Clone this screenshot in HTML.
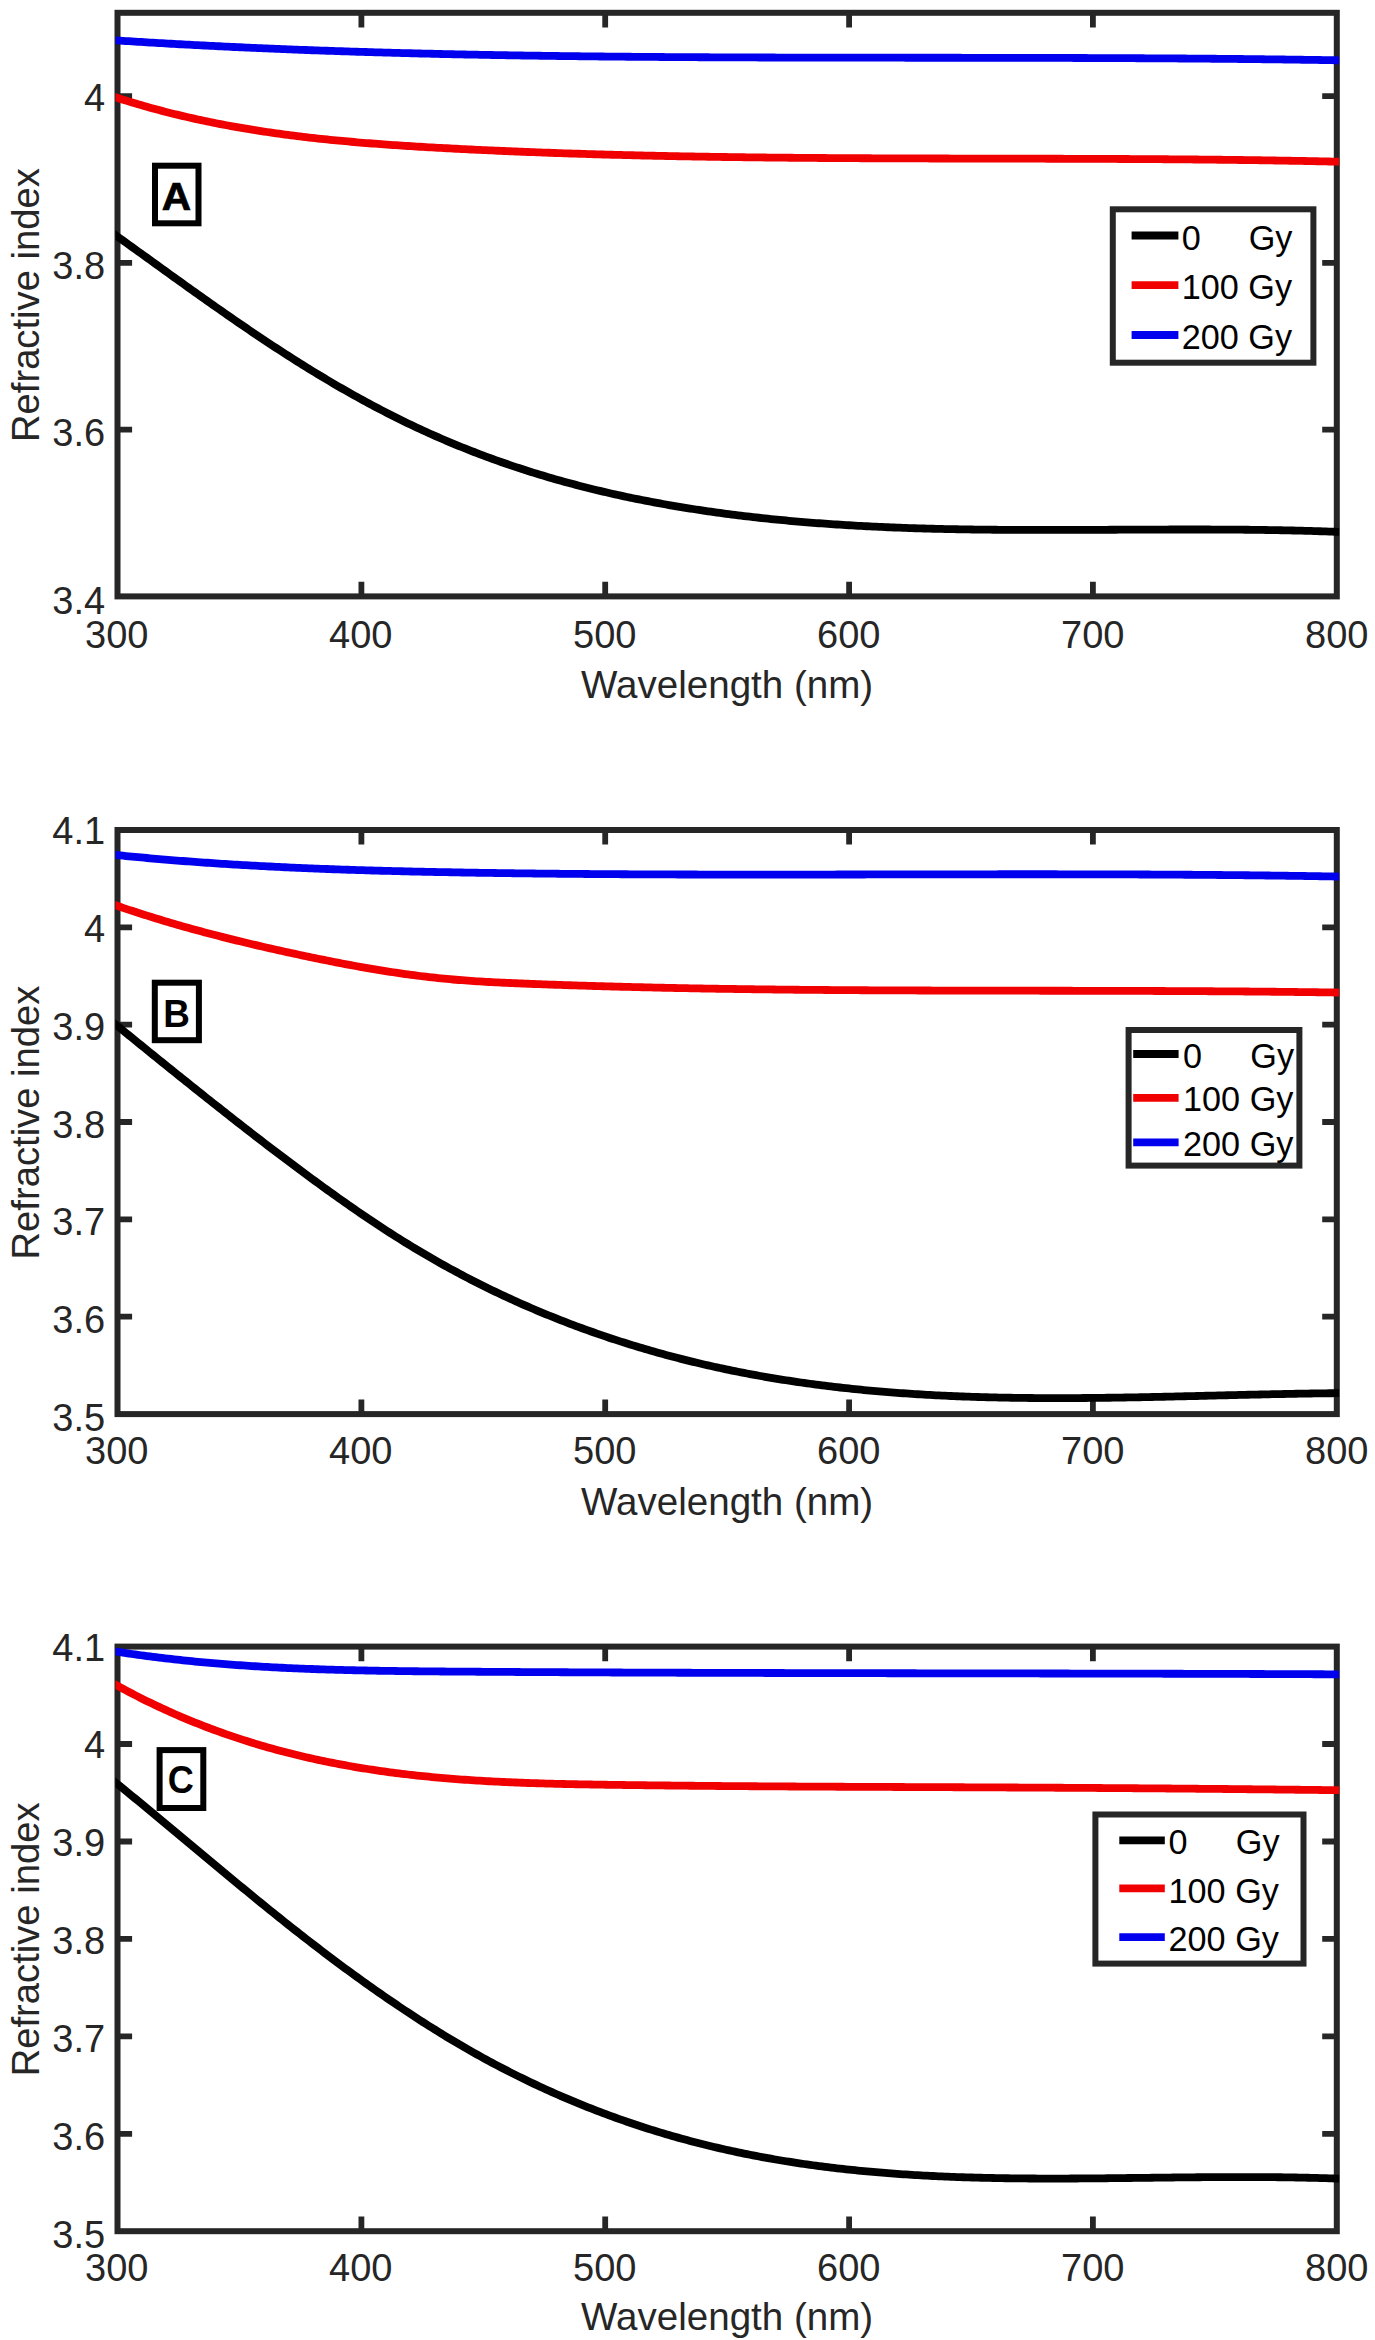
<!DOCTYPE html>
<html lang="en">
<head>
<meta charset="utf-8">
<title>Refractive index vs wavelength</title>
<style>html,body{margin:0;padding:0;background:#fff;}svg{display:block;}</style>
</head>
<body>
<svg width="1375" height="2340" viewBox="0 0 1375 2340" font-family="'Liberation Sans', sans-serif" fill="#262626">
<rect x="0" y="0" width="1375" height="2340" fill="#ffffff"/>
<g id="axes-A">
<rect x="117.5" y="12.8" width="1219.3" height="583.6" fill="none" stroke="#262626" stroke-width="6.0"/>
<path d="M361.4,596.4v-14.6 M361.4,12.8v14.6 M605.2,596.4v-14.6 M605.2,12.8v14.6 M849.1,596.4v-14.6 M849.1,12.8v14.6 M1092.9,596.4v-14.6 M1092.9,12.8v14.6 M117.5,429.7h14.6 M1336.8,429.7h-14.6 M117.5,262.9h14.6 M1336.8,262.9h-14.6 M117.5,96.2h14.6 M1336.8,96.2h-14.6" stroke="#262626" stroke-width="5.8" fill="none"/>
<text transform="translate(116.80,648.20) scale(1.0,1.04)" font-size="38.0" text-anchor="middle">300</text>
<text transform="translate(360.80,648.20) scale(1.0,1.04)" font-size="38.0" text-anchor="middle">400</text>
<text transform="translate(604.80,648.20) scale(1.0,1.04)" font-size="38.0" text-anchor="middle">500</text>
<text transform="translate(848.80,648.20) scale(1.0,1.04)" font-size="38.0" text-anchor="middle">600</text>
<text transform="translate(1092.80,648.20) scale(1.0,1.04)" font-size="38.0" text-anchor="middle">700</text>
<text transform="translate(1336.80,648.20) scale(1.0,1.04)" font-size="38.0" text-anchor="middle">800</text>
<text transform="translate(105.10,613.56) scale(1.0,1.04)" font-size="38.0" text-anchor="end">3.4</text>
<text transform="translate(105.10,446.10) scale(1.0,1.04)" font-size="38.0" text-anchor="end">3.6</text>
<text transform="translate(105.10,278.64) scale(1.0,1.04)" font-size="38.0" text-anchor="end">3.8</text>
<text transform="translate(105.10,111.18) scale(1.0,1.04)" font-size="38.0" text-anchor="end">4</text>
<text transform="translate(727.15,697.70)" font-size="38.55" text-anchor="middle">Wavelength (nm)</text>
<text transform="translate(39.10,305.10) rotate(-90)" font-size="38.2" text-anchor="middle">Refractive index</text>
<clipPath id="clip-A"><rect x="115.5" y="12.8" width="1223.6" height="583.6"/></clipPath>
<g clip-path="url(#clip-A)">
<path d="M108.0,229.74 L111.0,231.88 L114.0,234.03 L117.0,236.19 L120.0,238.34 L123.0,240.49 L126.0,242.65 L129.0,244.81 L132.0,246.97 L135.0,249.13 L138.0,251.29 L141.0,253.46 L144.0,255.62 L147.0,257.78 L150.0,259.94 L153.0,262.11 L156.0,264.27 L159.0,266.43 L162.0,268.59 L165.0,270.75 L168.0,272.91 L171.0,275.06 L174.0,277.22 L177.0,279.37 L180.0,281.52 L183.0,283.67 L186.0,285.81 L189.0,287.96 L192.0,290.09 L195.0,292.23 L198.0,294.36 L201.0,296.49 L204.0,298.62 L207.0,300.74 L210.0,302.85 L213.0,304.97 L216.0,307.07 L219.0,309.17 L222.0,311.27 L225.0,313.36 L228.0,315.45 L231.0,317.53 L234.0,319.60 L237.0,321.67 L240.0,323.73 L243.0,325.78 L246.0,327.83 L249.0,329.87 L252.0,331.91 L255.0,333.93 L258.0,335.95 L261.0,337.96 L264.0,339.96 L267.0,341.95 L270.0,343.94 L273.0,345.91 L276.0,347.88 L279.0,349.84 L282.0,351.79 L285.0,353.72 L288.0,355.65 L291.0,357.57 L294.0,359.48 L297.0,361.38 L300.0,363.26 L303.0,365.14 L306.0,367.00 L309.0,368.86 L312.0,370.70 L315.0,372.53 L318.0,374.35 L321.0,376.16 L324.0,377.96 L327.0,379.74 L330.0,381.52 L333.0,383.28 L336.0,385.03 L339.0,386.77 L342.0,388.50 L345.0,390.21 L348.0,391.92 L351.0,393.61 L354.0,395.29 L357.0,396.96 L360.0,398.61 L363.0,400.26 L366.0,401.89 L369.0,403.51 L372.0,405.11 L375.0,406.71 L378.0,408.29 L381.0,409.85 L384.0,411.41 L387.0,412.95 L390.0,414.48 L393.0,416.00 L396.0,417.51 L399.0,419.00 L402.0,420.47 L405.0,421.94 L408.0,423.39 L411.0,424.83 L414.0,426.26 L417.0,427.67 L420.0,429.07 L423.0,430.45 L426.0,431.82 L429.0,433.18 L432.0,434.53 L435.0,435.86 L438.0,437.18 L441.0,438.48 L444.0,439.77 L447.0,441.05 L450.0,442.32 L453.0,443.57 L456.0,444.82 L459.0,446.04 L462.0,447.26 L465.0,448.46 L468.0,449.65 L471.0,450.83 L474.0,452.00 L477.0,453.15 L480.0,454.30 L483.0,455.43 L486.0,456.54 L489.0,457.65 L492.0,458.74 L495.0,459.83 L498.0,460.90 L501.0,461.96 L504.0,463.01 L507.0,464.04 L510.0,465.07 L513.0,466.08 L516.0,467.08 L519.0,468.07 L522.0,469.05 L525.0,470.02 L528.0,470.98 L531.0,471.93 L534.0,472.87 L537.0,473.79 L540.0,474.71 L543.0,475.61 L546.0,476.51 L549.0,477.39 L552.0,478.26 L555.0,479.13 L558.0,479.98 L561.0,480.82 L564.0,481.66 L567.0,482.48 L570.0,483.29 L573.0,484.10 L576.0,484.89 L579.0,485.67 L582.0,486.45 L585.0,487.21 L588.0,487.97 L591.0,488.71 L594.0,489.45 L597.0,490.18 L600.0,490.90 L603.0,491.60 L606.0,492.30 L609.0,493.00 L612.0,493.68 L615.0,494.35 L618.0,495.02 L621.0,495.67 L624.0,496.32 L627.0,496.96 L630.0,497.59 L633.0,498.21 L636.0,498.83 L639.0,499.43 L642.0,500.03 L645.0,500.62 L648.0,501.20 L651.0,501.78 L654.0,502.34 L657.0,502.90 L660.0,503.45 L663.0,503.99 L666.0,504.53 L669.0,505.06 L672.0,505.58 L675.0,506.09 L678.0,506.60 L681.0,507.10 L684.0,507.59 L687.0,508.07 L690.0,508.55 L693.0,509.02 L696.0,509.49 L699.0,509.94 L702.0,510.39 L705.0,510.84 L708.0,511.28 L711.0,511.71 L714.0,512.13 L717.0,512.55 L720.0,512.96 L723.0,513.37 L726.0,513.76 L729.0,514.16 L732.0,514.54 L735.0,514.92 L738.0,515.30 L741.0,515.66 L744.0,516.03 L747.0,516.38 L750.0,516.73 L753.0,517.08 L756.0,517.41 L759.0,517.75 L762.0,518.07 L765.0,518.39 L768.0,518.71 L771.0,519.02 L774.0,519.32 L777.0,519.62 L780.0,519.91 L783.0,520.20 L786.0,520.48 L789.0,520.76 L792.0,521.03 L795.0,521.30 L798.0,521.56 L801.0,521.82 L804.0,522.07 L807.0,522.31 L810.0,522.55 L813.0,522.79 L816.0,523.02 L819.0,523.25 L822.0,523.47 L825.0,523.69 L828.0,523.90 L831.0,524.11 L834.0,524.31 L837.0,524.51 L840.0,524.70 L843.0,524.89 L846.0,525.08 L849.0,525.26 L852.0,525.43 L855.0,525.61 L858.0,525.77 L861.0,525.94 L864.0,526.10 L867.0,526.25 L870.0,526.40 L873.0,526.55 L876.0,526.69 L879.0,526.83 L882.0,526.97 L885.0,527.10 L888.0,527.23 L891.0,527.36 L894.0,527.48 L897.0,527.59 L900.0,527.71 L903.0,527.82 L906.0,527.93 L909.0,528.03 L912.0,528.13 L915.0,528.23 L918.0,528.32 L921.0,528.41 L924.0,528.50 L927.0,528.58 L930.0,528.66 L933.0,528.74 L936.0,528.82 L939.0,528.89 L942.0,528.96 L945.0,529.03 L948.0,529.09 L951.0,529.15 L954.0,529.21 L957.0,529.26 L960.0,529.32 L963.0,529.37 L966.0,529.42 L969.0,529.46 L972.0,529.51 L975.0,529.55 L978.0,529.59 L981.0,529.62 L984.0,529.66 L987.0,529.69 L990.0,529.72 L993.0,529.75 L996.0,529.77 L999.0,529.80 L1002.0,529.82 L1005.0,529.84 L1008.0,529.86 L1011.0,529.88 L1014.0,529.89 L1017.0,529.91 L1020.0,529.92 L1023.0,529.93 L1026.0,529.94 L1029.0,529.94 L1032.0,529.95 L1035.0,529.95 L1038.0,529.96 L1041.0,529.96 L1044.0,529.96 L1047.0,529.96 L1050.0,529.96 L1053.0,529.96 L1056.0,529.95 L1059.0,529.95 L1062.0,529.94 L1065.0,529.93 L1068.0,529.93 L1071.0,529.92 L1074.0,529.91 L1077.0,529.90 L1080.0,529.89 L1083.0,529.88 L1086.0,529.87 L1089.0,529.86 L1092.0,529.84 L1095.0,529.83 L1098.0,529.82 L1101.0,529.80 L1104.0,529.79 L1107.0,529.78 L1110.0,529.76 L1113.0,529.75 L1116.0,529.73 L1119.0,529.72 L1122.0,529.71 L1125.0,529.69 L1128.0,529.68 L1131.0,529.66 L1134.0,529.65 L1137.0,529.64 L1140.0,529.62 L1143.0,529.61 L1146.0,529.60 L1149.0,529.59 L1152.0,529.57 L1155.0,529.56 L1158.0,529.55 L1161.0,529.54 L1164.0,529.54 L1167.0,529.53 L1170.0,529.52 L1173.0,529.51 L1176.0,529.51 L1179.0,529.50 L1182.0,529.50 L1185.0,529.50 L1188.0,529.50 L1191.0,529.49 L1194.0,529.50 L1197.0,529.50 L1200.0,529.50 L1203.0,529.51 L1206.0,529.51 L1209.0,529.52 L1212.0,529.53 L1215.0,529.54 L1218.0,529.55 L1221.0,529.56 L1224.0,529.58 L1227.0,529.60 L1230.0,529.61 L1233.0,529.63 L1236.0,529.66 L1239.0,529.68 L1242.0,529.71 L1245.0,529.74 L1248.0,529.77 L1251.0,529.80 L1254.0,529.83 L1257.0,529.87 L1260.0,529.91 L1263.0,529.95 L1266.0,529.99 L1269.0,530.04 L1272.0,530.09 L1275.0,530.14 L1278.0,530.19 L1281.0,530.25 L1284.0,530.31 L1287.0,530.37 L1290.0,530.43 L1293.0,530.50 L1296.0,530.57 L1299.0,530.64 L1302.0,530.72 L1305.0,530.79 L1308.0,530.88 L1311.0,530.96 L1314.0,531.05 L1317.0,531.14 L1320.0,531.23 L1323.0,531.33 L1326.0,531.43 L1329.0,531.53 L1332.0,531.64 L1335.0,531.75 L1338.0,531.86 L1341.0,531.98" fill="none" stroke="#000000" stroke-width="7.8" stroke-linejoin="round"/>
<path d="M108.0,94.79 L111.0,95.79 L114.0,96.78 L117.0,97.76 L120.0,98.72 L123.0,99.67 L126.0,100.60 L129.0,101.53 L132.0,102.44 L135.0,103.34 L138.0,104.22 L141.0,105.09 L144.0,105.96 L147.0,106.80 L150.0,107.64 L153.0,108.47 L156.0,109.28 L159.0,110.08 L162.0,110.87 L165.0,111.65 L168.0,112.42 L171.0,113.17 L174.0,113.92 L177.0,114.65 L180.0,115.37 L183.0,116.08 L186.0,116.78 L189.0,117.47 L192.0,118.15 L195.0,118.82 L198.0,119.48 L201.0,120.13 L204.0,120.77 L207.0,121.40 L210.0,122.01 L213.0,122.62 L216.0,123.22 L219.0,123.81 L222.0,124.39 L225.0,124.96 L228.0,125.52 L231.0,126.07 L234.0,126.61 L237.0,127.15 L240.0,127.67 L243.0,128.19 L246.0,128.69 L249.0,129.19 L252.0,129.68 L255.0,130.16 L258.0,130.63 L261.0,131.10 L264.0,131.56 L267.0,132.00 L270.0,132.45 L273.0,132.88 L276.0,133.30 L279.0,133.72 L282.0,134.13 L285.0,134.53 L288.0,134.93 L291.0,135.32 L294.0,135.70 L297.0,136.08 L300.0,136.44 L303.0,136.80 L306.0,137.16 L309.0,137.51 L312.0,137.85 L315.0,138.18 L318.0,138.51 L321.0,138.84 L324.0,139.15 L327.0,139.46 L330.0,139.77 L333.0,140.07 L336.0,140.36 L339.0,140.65 L342.0,140.93 L345.0,141.21 L348.0,141.48 L351.0,141.75 L354.0,142.01 L357.0,142.27 L360.0,142.53 L363.0,142.77 L366.0,143.02 L369.0,143.26 L372.0,143.49 L375.0,143.72 L378.0,143.95 L381.0,144.17 L384.0,144.39 L387.0,144.61 L390.0,144.82 L393.0,145.02 L396.0,145.23 L399.0,145.43 L402.0,145.63 L405.0,145.82 L408.0,146.01 L411.0,146.20 L414.0,146.39 L417.0,146.57 L420.0,146.75 L423.0,146.93 L426.0,147.10 L429.0,147.27 L432.0,147.44 L435.0,147.61 L438.0,147.78 L441.0,147.94 L444.0,148.10 L447.0,148.26 L450.0,148.42 L453.0,148.58 L456.0,148.73 L459.0,148.89 L462.0,149.04 L465.0,149.19 L468.0,149.34 L471.0,149.49 L474.0,149.63 L477.0,149.78 L480.0,149.92 L483.0,150.06 L486.0,150.20 L489.0,150.33 L492.0,150.47 L495.0,150.61 L498.0,150.74 L501.0,150.87 L504.0,151.00 L507.0,151.13 L510.0,151.25 L513.0,151.38 L516.0,151.50 L519.0,151.63 L522.0,151.75 L525.0,151.87 L528.0,151.98 L531.0,152.10 L534.0,152.21 L537.0,152.33 L540.0,152.44 L543.0,152.55 L546.0,152.66 L549.0,152.77 L552.0,152.88 L555.0,152.98 L558.0,153.08 L561.0,153.19 L564.0,153.29 L567.0,153.39 L570.0,153.49 L573.0,153.58 L576.0,153.68 L579.0,153.77 L582.0,153.87 L585.0,153.96 L588.0,154.05 L591.0,154.14 L594.0,154.23 L597.0,154.32 L600.0,154.40 L603.0,154.49 L606.0,154.57 L609.0,154.65 L612.0,154.73 L615.0,154.81 L618.0,154.89 L621.0,154.97 L624.0,155.04 L627.0,155.12 L630.0,155.19 L633.0,155.27 L636.0,155.34 L639.0,155.41 L642.0,155.48 L645.0,155.55 L648.0,155.61 L651.0,155.68 L654.0,155.75 L657.0,155.81 L660.0,155.87 L663.0,155.94 L666.0,156.00 L669.0,156.06 L672.0,156.12 L675.0,156.17 L678.0,156.23 L681.0,156.29 L684.0,156.34 L687.0,156.40 L690.0,156.45 L693.0,156.50 L696.0,156.55 L699.0,156.61 L702.0,156.66 L705.0,156.70 L708.0,156.75 L711.0,156.80 L714.0,156.84 L717.0,156.89 L720.0,156.93 L723.0,156.98 L726.0,157.02 L729.0,157.06 L732.0,157.10 L735.0,157.14 L738.0,157.18 L741.0,157.22 L744.0,157.26 L747.0,157.30 L750.0,157.33 L753.0,157.37 L756.0,157.40 L759.0,157.44 L762.0,157.47 L765.0,157.50 L768.0,157.54 L771.0,157.57 L774.0,157.60 L777.0,157.63 L780.0,157.66 L783.0,157.69 L786.0,157.71 L789.0,157.74 L792.0,157.77 L795.0,157.79 L798.0,157.82 L801.0,157.84 L804.0,157.87 L807.0,157.89 L810.0,157.91 L813.0,157.94 L816.0,157.96 L819.0,157.98 L822.0,158.00 L825.0,158.02 L828.0,158.04 L831.0,158.06 L834.0,158.08 L837.0,158.10 L840.0,158.12 L843.0,158.13 L846.0,158.15 L849.0,158.17 L852.0,158.18 L855.0,158.20 L858.0,158.21 L861.0,158.23 L864.0,158.24 L867.0,158.26 L870.0,158.27 L873.0,158.28 L876.0,158.30 L879.0,158.31 L882.0,158.32 L885.0,158.33 L888.0,158.34 L891.0,158.36 L894.0,158.37 L897.0,158.38 L900.0,158.39 L903.0,158.40 L906.0,158.41 L909.0,158.42 L912.0,158.43 L915.0,158.43 L918.0,158.44 L921.0,158.45 L924.0,158.46 L927.0,158.47 L930.0,158.48 L933.0,158.48 L936.0,158.49 L939.0,158.50 L942.0,158.51 L945.0,158.51 L948.0,158.52 L951.0,158.53 L954.0,158.53 L957.0,158.54 L960.0,158.55 L963.0,158.55 L966.0,158.56 L969.0,158.56 L972.0,158.57 L975.0,158.58 L978.0,158.58 L981.0,158.59 L984.0,158.59 L987.0,158.60 L990.0,158.61 L993.0,158.61 L996.0,158.62 L999.0,158.62 L1002.0,158.63 L1005.0,158.64 L1008.0,158.64 L1011.0,158.65 L1014.0,158.65 L1017.0,158.66 L1020.0,158.67 L1023.0,158.67 L1026.0,158.68 L1029.0,158.69 L1032.0,158.69 L1035.0,158.70 L1038.0,158.71 L1041.0,158.71 L1044.0,158.72 L1047.0,158.73 L1050.0,158.73 L1053.0,158.74 L1056.0,158.75 L1059.0,158.76 L1062.0,158.77 L1065.0,158.78 L1068.0,158.78 L1071.0,158.79 L1074.0,158.80 L1077.0,158.81 L1080.0,158.82 L1083.0,158.83 L1086.0,158.84 L1089.0,158.85 L1092.0,158.86 L1095.0,158.88 L1098.0,158.89 L1101.0,158.90 L1104.0,158.91 L1107.0,158.92 L1110.0,158.94 L1113.0,158.95 L1116.0,158.96 L1119.0,158.98 L1122.0,158.99 L1125.0,159.01 L1128.0,159.02 L1131.0,159.04 L1134.0,159.06 L1137.0,159.07 L1140.0,159.09 L1143.0,159.11 L1146.0,159.13 L1149.0,159.14 L1152.0,159.16 L1155.0,159.18 L1158.0,159.20 L1161.0,159.22 L1164.0,159.25 L1167.0,159.27 L1170.0,159.29 L1173.0,159.31 L1176.0,159.34 L1179.0,159.36 L1182.0,159.38 L1185.0,159.41 L1188.0,159.44 L1191.0,159.46 L1194.0,159.49 L1197.0,159.52 L1200.0,159.54 L1203.0,159.57 L1206.0,159.60 L1209.0,159.63 L1212.0,159.66 L1215.0,159.70 L1218.0,159.73 L1221.0,159.76 L1224.0,159.80 L1227.0,159.83 L1230.0,159.87 L1233.0,159.90 L1236.0,159.94 L1239.0,159.98 L1242.0,160.01 L1245.0,160.05 L1248.0,160.09 L1251.0,160.13 L1254.0,160.17 L1257.0,160.22 L1260.0,160.26 L1263.0,160.30 L1266.0,160.35 L1269.0,160.39 L1272.0,160.44 L1275.0,160.49 L1278.0,160.54 L1281.0,160.59 L1284.0,160.64 L1287.0,160.69 L1290.0,160.74 L1293.0,160.79 L1296.0,160.85 L1299.0,160.90 L1302.0,160.96 L1305.0,161.01 L1308.0,161.07 L1311.0,161.13 L1314.0,161.19 L1317.0,161.25 L1320.0,161.31 L1323.0,161.37 L1326.0,161.44 L1329.0,161.50 L1332.0,161.57 L1335.0,161.64 L1338.0,161.70 L1341.0,161.77" fill="none" stroke="#f00000" stroke-width="7.8" stroke-linejoin="round"/>
<path d="M108.0,39.87 L111.0,40.07 L114.0,40.27 L117.0,40.46 L120.0,40.66 L123.0,40.85 L126.0,41.04 L129.0,41.23 L132.0,41.42 L135.0,41.61 L138.0,41.79 L141.0,41.98 L144.0,42.16 L147.0,42.34 L150.0,42.52 L153.0,42.70 L156.0,42.88 L159.0,43.05 L162.0,43.23 L165.0,43.40 L168.0,43.57 L171.0,43.74 L174.0,43.91 L177.0,44.07 L180.0,44.24 L183.0,44.40 L186.0,44.57 L189.0,44.73 L192.0,44.89 L195.0,45.05 L198.0,45.20 L201.0,45.36 L204.0,45.51 L207.0,45.67 L210.0,45.82 L213.0,45.97 L216.0,46.12 L219.0,46.27 L222.0,46.41 L225.0,46.56 L228.0,46.70 L231.0,46.84 L234.0,46.99 L237.0,47.13 L240.0,47.26 L243.0,47.40 L246.0,47.54 L249.0,47.67 L252.0,47.81 L255.0,47.94 L258.0,48.07 L261.0,48.20 L264.0,48.33 L267.0,48.46 L270.0,48.58 L273.0,48.71 L276.0,48.83 L279.0,48.96 L282.0,49.08 L285.0,49.20 L288.0,49.32 L291.0,49.43 L294.0,49.55 L297.0,49.67 L300.0,49.78 L303.0,49.89 L306.0,50.01 L309.0,50.12 L312.0,50.23 L315.0,50.34 L318.0,50.44 L321.0,50.55 L324.0,50.66 L327.0,50.76 L330.0,50.86 L333.0,50.97 L336.0,51.07 L339.0,51.17 L342.0,51.27 L345.0,51.37 L348.0,51.46 L351.0,51.56 L354.0,51.65 L357.0,51.75 L360.0,51.84 L363.0,51.93 L366.0,52.02 L369.0,52.11 L372.0,52.20 L375.0,52.29 L378.0,52.38 L381.0,52.46 L384.0,52.55 L387.0,52.63 L390.0,52.71 L393.0,52.79 L396.0,52.88 L399.0,52.96 L402.0,53.03 L405.0,53.11 L408.0,53.19 L411.0,53.27 L414.0,53.34 L417.0,53.42 L420.0,53.49 L423.0,53.56 L426.0,53.63 L429.0,53.70 L432.0,53.77 L435.0,53.84 L438.0,53.91 L441.0,53.98 L444.0,54.05 L447.0,54.11 L450.0,54.18 L453.0,54.24 L456.0,54.30 L459.0,54.37 L462.0,54.43 L465.0,54.49 L468.0,54.55 L471.0,54.61 L474.0,54.67 L477.0,54.72 L480.0,54.78 L483.0,54.84 L486.0,54.89 L489.0,54.95 L492.0,55.00 L495.0,55.05 L498.0,55.10 L501.0,55.16 L504.0,55.21 L507.0,55.26 L510.0,55.31 L513.0,55.35 L516.0,55.40 L519.0,55.45 L522.0,55.50 L525.0,55.54 L528.0,55.59 L531.0,55.63 L534.0,55.67 L537.0,55.72 L540.0,55.76 L543.0,55.80 L546.0,55.84 L549.0,55.88 L552.0,55.92 L555.0,55.96 L558.0,56.00 L561.0,56.04 L564.0,56.08 L567.0,56.11 L570.0,56.15 L573.0,56.19 L576.0,56.22 L579.0,56.26 L582.0,56.29 L585.0,56.32 L588.0,56.36 L591.0,56.39 L594.0,56.42 L597.0,56.45 L600.0,56.48 L603.0,56.51 L606.0,56.54 L609.0,56.57 L612.0,56.60 L615.0,56.63 L618.0,56.65 L621.0,56.68 L624.0,56.71 L627.0,56.73 L630.0,56.76 L633.0,56.78 L636.0,56.81 L639.0,56.83 L642.0,56.86 L645.0,56.88 L648.0,56.90 L651.0,56.93 L654.0,56.95 L657.0,56.97 L660.0,56.99 L663.0,57.01 L666.0,57.03 L669.0,57.05 L672.0,57.07 L675.0,57.09 L678.0,57.11 L681.0,57.13 L684.0,57.14 L687.0,57.16 L690.0,57.18 L693.0,57.20 L696.0,57.21 L699.0,57.23 L702.0,57.24 L705.0,57.26 L708.0,57.27 L711.0,57.29 L714.0,57.30 L717.0,57.32 L720.0,57.33 L723.0,57.34 L726.0,57.36 L729.0,57.37 L732.0,57.38 L735.0,57.39 L738.0,57.40 L741.0,57.42 L744.0,57.43 L747.0,57.44 L750.0,57.45 L753.0,57.46 L756.0,57.47 L759.0,57.48 L762.0,57.49 L765.0,57.50 L768.0,57.51 L771.0,57.51 L774.0,57.52 L777.0,57.53 L780.0,57.54 L783.0,57.55 L786.0,57.55 L789.0,57.56 L792.0,57.57 L795.0,57.58 L798.0,57.58 L801.0,57.59 L804.0,57.59 L807.0,57.60 L810.0,57.61 L813.0,57.61 L816.0,57.62 L819.0,57.62 L822.0,57.63 L825.0,57.63 L828.0,57.64 L831.0,57.64 L834.0,57.65 L837.0,57.65 L840.0,57.66 L843.0,57.66 L846.0,57.66 L849.0,57.67 L852.0,57.67 L855.0,57.68 L858.0,57.68 L861.0,57.68 L864.0,57.69 L867.0,57.69 L870.0,57.69 L873.0,57.70 L876.0,57.70 L879.0,57.70 L882.0,57.71 L885.0,57.71 L888.0,57.71 L891.0,57.71 L894.0,57.72 L897.0,57.72 L900.0,57.72 L903.0,57.72 L906.0,57.73 L909.0,57.73 L912.0,57.73 L915.0,57.73 L918.0,57.74 L921.0,57.74 L924.0,57.74 L927.0,57.74 L930.0,57.75 L933.0,57.75 L936.0,57.75 L939.0,57.75 L942.0,57.76 L945.0,57.76 L948.0,57.76 L951.0,57.77 L954.0,57.77 L957.0,57.77 L960.0,57.77 L963.0,57.78 L966.0,57.78 L969.0,57.78 L972.0,57.79 L975.0,57.79 L978.0,57.79 L981.0,57.80 L984.0,57.80 L987.0,57.80 L990.0,57.81 L993.0,57.81 L996.0,57.82 L999.0,57.82 L1002.0,57.82 L1005.0,57.83 L1008.0,57.83 L1011.0,57.84 L1014.0,57.84 L1017.0,57.85 L1020.0,57.85 L1023.0,57.86 L1026.0,57.86 L1029.0,57.87 L1032.0,57.87 L1035.0,57.88 L1038.0,57.89 L1041.0,57.89 L1044.0,57.90 L1047.0,57.91 L1050.0,57.91 L1053.0,57.92 L1056.0,57.93 L1059.0,57.94 L1062.0,57.94 L1065.0,57.95 L1068.0,57.96 L1071.0,57.97 L1074.0,57.98 L1077.0,57.99 L1080.0,58.00 L1083.0,58.01 L1086.0,58.02 L1089.0,58.03 L1092.0,58.04 L1095.0,58.05 L1098.0,58.06 L1101.0,58.07 L1104.0,58.08 L1107.0,58.09 L1110.0,58.10 L1113.0,58.12 L1116.0,58.13 L1119.0,58.14 L1122.0,58.16 L1125.0,58.17 L1128.0,58.18 L1131.0,58.20 L1134.0,58.21 L1137.0,58.23 L1140.0,58.24 L1143.0,58.26 L1146.0,58.28 L1149.0,58.29 L1152.0,58.31 L1155.0,58.33 L1158.0,58.35 L1161.0,58.36 L1164.0,58.38 L1167.0,58.40 L1170.0,58.42 L1173.0,58.44 L1176.0,58.46 L1179.0,58.48 L1182.0,58.50 L1185.0,58.52 L1188.0,58.55 L1191.0,58.57 L1194.0,58.59 L1197.0,58.61 L1200.0,58.64 L1203.0,58.66 L1206.0,58.69 L1209.0,58.71 L1212.0,58.74 L1215.0,58.76 L1218.0,58.79 L1221.0,58.82 L1224.0,58.84 L1227.0,58.87 L1230.0,58.90 L1233.0,58.93 L1236.0,58.96 L1239.0,58.99 L1242.0,59.02 L1245.0,59.05 L1248.0,59.08 L1251.0,59.11 L1254.0,59.15 L1257.0,59.18 L1260.0,59.21 L1263.0,59.25 L1266.0,59.28 L1269.0,59.32 L1272.0,59.35 L1275.0,59.39 L1278.0,59.43 L1281.0,59.47 L1284.0,59.50 L1287.0,59.54 L1290.0,59.58 L1293.0,59.62 L1296.0,59.66 L1299.0,59.71 L1302.0,59.75 L1305.0,59.79 L1308.0,59.83 L1311.0,59.88 L1314.0,59.92 L1317.0,59.97 L1320.0,60.01 L1323.0,60.06 L1326.0,60.11 L1329.0,60.15 L1332.0,60.20 L1335.0,60.25 L1338.0,60.30 L1341.0,60.35" fill="none" stroke="#0000ee" stroke-width="7.8" stroke-linejoin="round"/>
</g>
<rect x="155.0" y="165.7" width="43.5" height="57.6" fill="#ffffff" stroke="#000000" stroke-width="6.0"/>
<text transform="translate(176.40,210.00) scale(1.07,1.04)" font-size="38.0" text-anchor="middle" font-weight="bold" fill="#000000" stroke="#000000" stroke-width="0.7">A</text>
<rect x="1112.8" y="209.3" width="200.6" height="153.4" fill="#ffffff" stroke="#262626" stroke-width="6"/>
<path d="M1131.6,235.5H1178.4" stroke="#000000" stroke-width="7.8" fill="none"/>
<path d="M1131.6,285.2H1178.4" stroke="#f00000" stroke-width="7.8" fill="none"/>
<path d="M1131.6,335.0H1178.4" stroke="#0000ee" stroke-width="7.8" fill="none"/>
<text transform="translate(1181.80,249.50) scale(1.0,1.04)" font-size="34.2" text-anchor="start" fill="#000000">0</text>
<text transform="translate(1248.70,249.50) scale(1.0,1.04)" font-size="34.2" text-anchor="start" fill="#000000">Gy</text>
<text transform="translate(1181.80,299.00) scale(1.0,1.04)" font-size="34.2" text-anchor="start" fill="#000000">100 Gy</text>
<text transform="translate(1181.80,348.70) scale(1.0,1.04)" font-size="34.2" text-anchor="start" fill="#000000">200 Gy</text>
</g>
<g id="axes-B">
<rect x="117.5" y="830.0" width="1219.3" height="584.1" fill="none" stroke="#262626" stroke-width="6.0"/>
<path d="M361.4,1414.1v-14.6 M361.4,830.0v14.6 M605.2,1414.1v-14.6 M605.2,830.0v14.6 M849.1,1414.1v-14.6 M849.1,830.0v14.6 M1092.9,1414.1v-14.6 M1092.9,830.0v14.6 M117.5,1316.7h14.6 M1336.8,1316.7h-14.6 M117.5,1219.4h14.6 M1336.8,1219.4h-14.6 M117.5,1122.0h14.6 M1336.8,1122.0h-14.6 M117.5,1024.7h14.6 M1336.8,1024.7h-14.6 M117.5,927.3h14.6 M1336.8,927.3h-14.6" stroke="#262626" stroke-width="5.8" fill="none"/>
<text transform="translate(116.80,1464.30) scale(1.0,1.04)" font-size="38.0" text-anchor="middle">300</text>
<text transform="translate(360.80,1464.30) scale(1.0,1.04)" font-size="38.0" text-anchor="middle">400</text>
<text transform="translate(604.80,1464.30) scale(1.0,1.04)" font-size="38.0" text-anchor="middle">500</text>
<text transform="translate(848.80,1464.30) scale(1.0,1.04)" font-size="38.0" text-anchor="middle">600</text>
<text transform="translate(1092.80,1464.30) scale(1.0,1.04)" font-size="38.0" text-anchor="middle">700</text>
<text transform="translate(1336.80,1464.30) scale(1.0,1.04)" font-size="38.0" text-anchor="middle">800</text>
<text transform="translate(105.10,1430.81) scale(1.0,1.04)" font-size="38.0" text-anchor="end">3.5</text>
<text transform="translate(105.10,1333.04) scale(1.0,1.04)" font-size="38.0" text-anchor="end">3.6</text>
<text transform="translate(105.10,1235.27) scale(1.0,1.04)" font-size="38.0" text-anchor="end">3.7</text>
<text transform="translate(105.10,1137.51) scale(1.0,1.04)" font-size="38.0" text-anchor="end">3.8</text>
<text transform="translate(105.10,1039.74) scale(1.0,1.04)" font-size="38.0" text-anchor="end">3.9</text>
<text transform="translate(105.10,941.97) scale(1.0,1.04)" font-size="38.0" text-anchor="end">4</text>
<text transform="translate(105.10,844.20) scale(1.0,1.04)" font-size="38.0" text-anchor="end">4.1</text>
<text transform="translate(727.15,1514.70)" font-size="38.55" text-anchor="middle">Wavelength (nm)</text>
<text transform="translate(39.10,1122.55) rotate(-90)" font-size="38.2" text-anchor="middle">Refractive index</text>
<clipPath id="clip-B"><rect x="115.5" y="830.0" width="1223.6" height="584.1"/></clipPath>
<g clip-path="url(#clip-B)">
<path d="M108.0,1018.32 L111.0,1020.76 L114.0,1023.20 L117.0,1025.64 L120.0,1028.08 L123.0,1030.51 L126.0,1032.95 L129.0,1035.39 L132.0,1037.83 L135.0,1040.26 L138.0,1042.70 L141.0,1045.13 L144.0,1047.56 L147.0,1049.99 L150.0,1052.42 L153.0,1054.85 L156.0,1057.27 L159.0,1059.70 L162.0,1062.12 L165.0,1064.54 L168.0,1066.96 L171.0,1069.38 L174.0,1071.79 L177.0,1074.20 L180.0,1076.61 L183.0,1079.02 L186.0,1081.42 L189.0,1083.83 L192.0,1086.23 L195.0,1088.62 L198.0,1091.02 L201.0,1093.41 L204.0,1095.79 L207.0,1098.18 L210.0,1100.56 L213.0,1102.94 L216.0,1105.31 L219.0,1107.68 L222.0,1110.04 L225.0,1112.41 L228.0,1114.77 L231.0,1117.12 L234.0,1119.47 L237.0,1121.82 L240.0,1124.16 L243.0,1126.50 L246.0,1128.83 L249.0,1131.16 L252.0,1133.48 L255.0,1135.80 L258.0,1138.11 L261.0,1140.42 L264.0,1142.73 L267.0,1145.03 L270.0,1147.32 L273.0,1149.61 L276.0,1151.89 L279.0,1154.17 L282.0,1156.44 L285.0,1158.71 L288.0,1160.97 L291.0,1163.22 L294.0,1165.47 L297.0,1167.71 L300.0,1169.94 L303.0,1172.17 L306.0,1174.39 L309.0,1176.61 L312.0,1178.82 L315.0,1181.01 L318.0,1183.21 L321.0,1185.39 L324.0,1187.56 L327.0,1189.73 L330.0,1191.89 L333.0,1194.04 L336.0,1196.18 L339.0,1198.31 L342.0,1200.43 L345.0,1202.54 L348.0,1204.64 L351.0,1206.73 L354.0,1208.81 L357.0,1210.88 L360.0,1212.93 L363.0,1214.98 L366.0,1217.01 L369.0,1219.04 L372.0,1221.05 L375.0,1223.05 L378.0,1225.04 L381.0,1227.01 L384.0,1228.97 L387.0,1230.92 L390.0,1232.85 L393.0,1234.78 L396.0,1236.68 L399.0,1238.58 L402.0,1240.46 L405.0,1242.32 L408.0,1244.17 L411.0,1246.01 L414.0,1247.83 L417.0,1249.64 L420.0,1251.43 L423.0,1253.21 L426.0,1254.97 L429.0,1256.72 L432.0,1258.45 L435.0,1260.17 L438.0,1261.87 L441.0,1263.56 L444.0,1265.24 L447.0,1266.90 L450.0,1268.55 L453.0,1270.18 L456.0,1271.80 L459.0,1273.41 L462.0,1275.00 L465.0,1276.58 L468.0,1278.14 L471.0,1279.69 L474.0,1281.23 L477.0,1282.75 L480.0,1284.26 L483.0,1285.76 L486.0,1287.25 L489.0,1288.72 L492.0,1290.18 L495.0,1291.62 L498.0,1293.05 L501.0,1294.47 L504.0,1295.88 L507.0,1297.28 L510.0,1298.66 L513.0,1300.03 L516.0,1301.38 L519.0,1302.73 L522.0,1304.06 L525.0,1305.38 L528.0,1306.69 L531.0,1307.98 L534.0,1309.27 L537.0,1310.54 L540.0,1311.80 L543.0,1313.05 L546.0,1314.29 L549.0,1315.51 L552.0,1316.72 L555.0,1317.93 L558.0,1319.12 L561.0,1320.30 L564.0,1321.46 L567.0,1322.62 L570.0,1323.77 L573.0,1324.90 L576.0,1326.03 L579.0,1327.14 L582.0,1328.24 L585.0,1329.33 L588.0,1330.41 L591.0,1331.48 L594.0,1332.54 L597.0,1333.59 L600.0,1334.63 L603.0,1335.66 L606.0,1336.68 L609.0,1337.68 L612.0,1338.68 L615.0,1339.67 L618.0,1340.65 L621.0,1341.61 L624.0,1342.57 L627.0,1343.52 L630.0,1344.45 L633.0,1345.38 L636.0,1346.29 L639.0,1347.20 L642.0,1348.10 L645.0,1348.98 L648.0,1349.86 L651.0,1350.73 L654.0,1351.58 L657.0,1352.43 L660.0,1353.27 L663.0,1354.10 L666.0,1354.91 L669.0,1355.72 L672.0,1356.52 L675.0,1357.31 L678.0,1358.09 L681.0,1358.86 L684.0,1359.62 L687.0,1360.37 L690.0,1361.12 L693.0,1361.85 L696.0,1362.57 L699.0,1363.29 L702.0,1363.99 L705.0,1364.69 L708.0,1365.38 L711.0,1366.05 L714.0,1366.72 L717.0,1367.38 L720.0,1368.04 L723.0,1368.68 L726.0,1369.31 L729.0,1369.94 L732.0,1370.56 L735.0,1371.17 L738.0,1371.77 L741.0,1372.36 L744.0,1372.94 L747.0,1373.52 L750.0,1374.08 L753.0,1374.64 L756.0,1375.19 L759.0,1375.73 L762.0,1376.27 L765.0,1376.79 L768.0,1377.31 L771.0,1377.82 L774.0,1378.32 L777.0,1378.82 L780.0,1379.31 L783.0,1379.79 L786.0,1380.26 L789.0,1380.72 L792.0,1381.18 L795.0,1381.63 L798.0,1382.07 L801.0,1382.50 L804.0,1382.93 L807.0,1383.35 L810.0,1383.76 L813.0,1384.17 L816.0,1384.56 L819.0,1384.96 L822.0,1385.34 L825.0,1385.72 L828.0,1386.09 L831.0,1386.45 L834.0,1386.81 L837.0,1387.16 L840.0,1387.50 L843.0,1387.84 L846.0,1388.17 L849.0,1388.49 L852.0,1388.81 L855.0,1389.12 L858.0,1389.42 L861.0,1389.72 L864.0,1390.01 L867.0,1390.30 L870.0,1390.58 L873.0,1390.85 L876.0,1391.12 L879.0,1391.38 L882.0,1391.64 L885.0,1391.89 L888.0,1392.13 L891.0,1392.37 L894.0,1392.60 L897.0,1392.83 L900.0,1393.05 L903.0,1393.26 L906.0,1393.47 L909.0,1393.68 L912.0,1393.88 L915.0,1394.07 L918.0,1394.26 L921.0,1394.44 L924.0,1394.62 L927.0,1394.79 L930.0,1394.96 L933.0,1395.12 L936.0,1395.28 L939.0,1395.43 L942.0,1395.58 L945.0,1395.72 L948.0,1395.86 L951.0,1396.00 L954.0,1396.13 L957.0,1396.25 L960.0,1396.37 L963.0,1396.48 L966.0,1396.60 L969.0,1396.70 L972.0,1396.80 L975.0,1396.90 L978.0,1397.00 L981.0,1397.08 L984.0,1397.17 L987.0,1397.25 L990.0,1397.33 L993.0,1397.40 L996.0,1397.47 L999.0,1397.54 L1002.0,1397.60 L1005.0,1397.66 L1008.0,1397.71 L1011.0,1397.76 L1014.0,1397.81 L1017.0,1397.85 L1020.0,1397.89 L1023.0,1397.93 L1026.0,1397.96 L1029.0,1397.99 L1032.0,1398.02 L1035.0,1398.04 L1038.0,1398.06 L1041.0,1398.08 L1044.0,1398.09 L1047.0,1398.10 L1050.0,1398.11 L1053.0,1398.12 L1056.0,1398.12 L1059.0,1398.12 L1062.0,1398.11 L1065.0,1398.11 L1068.0,1398.10 L1071.0,1398.09 L1074.0,1398.07 L1077.0,1398.06 L1080.0,1398.04 L1083.0,1398.02 L1086.0,1397.99 L1089.0,1397.97 L1092.0,1397.94 L1095.0,1397.91 L1098.0,1397.88 L1101.0,1397.84 L1104.0,1397.81 L1107.0,1397.77 L1110.0,1397.73 L1113.0,1397.69 L1116.0,1397.64 L1119.0,1397.60 L1122.0,1397.55 L1125.0,1397.50 L1128.0,1397.45 L1131.0,1397.40 L1134.0,1397.35 L1137.0,1397.29 L1140.0,1397.24 L1143.0,1397.18 L1146.0,1397.12 L1149.0,1397.06 L1152.0,1397.00 L1155.0,1396.94 L1158.0,1396.87 L1161.0,1396.81 L1164.0,1396.74 L1167.0,1396.68 L1170.0,1396.61 L1173.0,1396.54 L1176.0,1396.47 L1179.0,1396.41 L1182.0,1396.34 L1185.0,1396.27 L1188.0,1396.20 L1191.0,1396.12 L1194.0,1396.05 L1197.0,1395.98 L1200.0,1395.91 L1203.0,1395.84 L1206.0,1395.76 L1209.0,1395.69 L1212.0,1395.62 L1215.0,1395.54 L1218.0,1395.47 L1221.0,1395.40 L1224.0,1395.32 L1227.0,1395.25 L1230.0,1395.18 L1233.0,1395.11 L1236.0,1395.04 L1239.0,1394.96 L1242.0,1394.89 L1245.0,1394.82 L1248.0,1394.75 L1251.0,1394.68 L1254.0,1394.61 L1257.0,1394.55 L1260.0,1394.48 L1263.0,1394.41 L1266.0,1394.35 L1269.0,1394.28 L1272.0,1394.22 L1275.0,1394.16 L1278.0,1394.10 L1281.0,1394.03 L1284.0,1393.98 L1287.0,1393.92 L1290.0,1393.86 L1293.0,1393.81 L1296.0,1393.75 L1299.0,1393.70 L1302.0,1393.65 L1305.0,1393.60 L1308.0,1393.55 L1311.0,1393.50 L1314.0,1393.46 L1317.0,1393.42 L1320.0,1393.38 L1323.0,1393.34 L1326.0,1393.30 L1329.0,1393.26 L1332.0,1393.23 L1335.0,1393.20 L1338.0,1393.17 L1341.0,1393.14" fill="none" stroke="#000000" stroke-width="7.8" stroke-linejoin="round"/>
<path d="M108.0,902.64 L111.0,903.70 L114.0,904.74 L117.0,905.78 L120.0,906.81 L123.0,907.83 L126.0,908.83 L129.0,909.83 L132.0,910.82 L135.0,911.80 L138.0,912.78 L141.0,913.74 L144.0,914.70 L147.0,915.64 L150.0,916.58 L153.0,917.51 L156.0,918.44 L159.0,919.35 L162.0,920.26 L165.0,921.15 L168.0,922.04 L171.0,922.93 L174.0,923.80 L177.0,924.67 L180.0,925.53 L183.0,926.38 L186.0,927.23 L189.0,928.07 L192.0,928.90 L195.0,929.72 L198.0,930.54 L201.0,931.35 L204.0,932.16 L207.0,932.95 L210.0,933.75 L213.0,934.53 L216.0,935.31 L219.0,936.08 L222.0,936.85 L225.0,937.61 L228.0,938.36 L231.0,939.11 L234.0,939.85 L237.0,940.59 L240.0,941.32 L243.0,942.05 L246.0,942.77 L249.0,943.49 L252.0,944.20 L255.0,944.90 L258.0,945.61 L261.0,946.30 L264.0,946.99 L267.0,947.68 L270.0,948.36 L273.0,949.04 L276.0,949.71 L279.0,950.38 L282.0,951.05 L285.0,951.71 L288.0,952.36 L291.0,953.02 L294.0,953.67 L297.0,954.31 L300.0,954.95 L303.0,955.59 L306.0,956.22 L309.0,956.85 L312.0,957.48 L315.0,958.10 L318.0,958.72 L321.0,959.33 L324.0,959.94 L327.0,960.54 L330.0,961.14 L333.0,961.73 L336.0,962.32 L339.0,962.90 L342.0,963.48 L345.0,964.05 L348.0,964.62 L351.0,965.17 L354.0,965.73 L357.0,966.27 L360.0,966.81 L363.0,967.34 L366.0,967.87 L369.0,968.39 L372.0,968.90 L375.0,969.41 L378.0,969.90 L381.0,970.39 L384.0,970.87 L387.0,971.35 L390.0,971.81 L393.0,972.27 L396.0,972.72 L399.0,973.16 L402.0,973.60 L405.0,974.02 L408.0,974.43 L411.0,974.84 L414.0,975.24 L417.0,975.62 L420.0,976.00 L423.0,976.37 L426.0,976.73 L429.0,977.08 L432.0,977.42 L435.0,977.74 L438.0,978.06 L441.0,978.37 L444.0,978.67 L447.0,978.95 L450.0,979.23 L453.0,979.49 L456.0,979.75 L459.0,979.99 L462.0,980.23 L465.0,980.46 L468.0,980.67 L471.0,980.88 L474.0,981.09 L477.0,981.28 L480.0,981.47 L483.0,981.65 L486.0,981.82 L489.0,981.99 L492.0,982.15 L495.0,982.31 L498.0,982.46 L501.0,982.60 L504.0,982.74 L507.0,982.88 L510.0,983.02 L513.0,983.14 L516.0,983.27 L519.0,983.39 L522.0,983.52 L525.0,983.63 L528.0,983.75 L531.0,983.87 L534.0,983.98 L537.0,984.09 L540.0,984.20 L543.0,984.31 L546.0,984.42 L549.0,984.53 L552.0,984.64 L555.0,984.74 L558.0,984.84 L561.0,984.95 L564.0,985.05 L567.0,985.15 L570.0,985.25 L573.0,985.34 L576.0,985.44 L579.0,985.53 L582.0,985.63 L585.0,985.72 L588.0,985.81 L591.0,985.90 L594.0,985.99 L597.0,986.08 L600.0,986.17 L603.0,986.25 L606.0,986.34 L609.0,986.42 L612.0,986.50 L615.0,986.58 L618.0,986.66 L621.0,986.74 L624.0,986.82 L627.0,986.90 L630.0,986.97 L633.0,987.05 L636.0,987.12 L639.0,987.19 L642.0,987.26 L645.0,987.34 L648.0,987.40 L651.0,987.47 L654.0,987.54 L657.0,987.61 L660.0,987.67 L663.0,987.74 L666.0,987.80 L669.0,987.86 L672.0,987.93 L675.0,987.99 L678.0,988.05 L681.0,988.10 L684.0,988.16 L687.0,988.22 L690.0,988.28 L693.0,988.33 L696.0,988.38 L699.0,988.44 L702.0,988.49 L705.0,988.54 L708.0,988.59 L711.0,988.64 L714.0,988.69 L717.0,988.74 L720.0,988.79 L723.0,988.83 L726.0,988.88 L729.0,988.93 L732.0,988.97 L735.0,989.01 L738.0,989.06 L741.0,989.10 L744.0,989.14 L747.0,989.18 L750.0,989.22 L753.0,989.26 L756.0,989.30 L759.0,989.33 L762.0,989.37 L765.0,989.41 L768.0,989.44 L771.0,989.47 L774.0,989.51 L777.0,989.54 L780.0,989.57 L783.0,989.61 L786.0,989.64 L789.0,989.67 L792.0,989.70 L795.0,989.73 L798.0,989.76 L801.0,989.78 L804.0,989.81 L807.0,989.84 L810.0,989.86 L813.0,989.89 L816.0,989.91 L819.0,989.94 L822.0,989.96 L825.0,989.99 L828.0,990.01 L831.0,990.03 L834.0,990.05 L837.0,990.07 L840.0,990.09 L843.0,990.12 L846.0,990.13 L849.0,990.15 L852.0,990.17 L855.0,990.19 L858.0,990.21 L861.0,990.23 L864.0,990.24 L867.0,990.26 L870.0,990.28 L873.0,990.29 L876.0,990.31 L879.0,990.32 L882.0,990.34 L885.0,990.35 L888.0,990.36 L891.0,990.38 L894.0,990.39 L897.0,990.40 L900.0,990.41 L903.0,990.43 L906.0,990.44 L909.0,990.45 L912.0,990.46 L915.0,990.47 L918.0,990.48 L921.0,990.49 L924.0,990.50 L927.0,990.51 L930.0,990.52 L933.0,990.53 L936.0,990.53 L939.0,990.54 L942.0,990.55 L945.0,990.56 L948.0,990.57 L951.0,990.57 L954.0,990.58 L957.0,990.59 L960.0,990.59 L963.0,990.60 L966.0,990.61 L969.0,990.61 L972.0,990.62 L975.0,990.62 L978.0,990.63 L981.0,990.63 L984.0,990.64 L987.0,990.65 L990.0,990.65 L993.0,990.66 L996.0,990.66 L999.0,990.67 L1002.0,990.67 L1005.0,990.67 L1008.0,990.68 L1011.0,990.68 L1014.0,990.69 L1017.0,990.69 L1020.0,990.70 L1023.0,990.70 L1026.0,990.71 L1029.0,990.71 L1032.0,990.71 L1035.0,990.72 L1038.0,990.72 L1041.0,990.73 L1044.0,990.73 L1047.0,990.74 L1050.0,990.74 L1053.0,990.74 L1056.0,990.75 L1059.0,990.75 L1062.0,990.76 L1065.0,990.76 L1068.0,990.77 L1071.0,990.77 L1074.0,990.78 L1077.0,990.78 L1080.0,990.79 L1083.0,990.79 L1086.0,990.80 L1089.0,990.81 L1092.0,990.81 L1095.0,990.82 L1098.0,990.82 L1101.0,990.83 L1104.0,990.84 L1107.0,990.84 L1110.0,990.85 L1113.0,990.86 L1116.0,990.86 L1119.0,990.87 L1122.0,990.88 L1125.0,990.89 L1128.0,990.90 L1131.0,990.90 L1134.0,990.91 L1137.0,990.92 L1140.0,990.93 L1143.0,990.94 L1146.0,990.95 L1149.0,990.96 L1152.0,990.97 L1155.0,990.98 L1158.0,990.99 L1161.0,991.00 L1164.0,991.02 L1167.0,991.03 L1170.0,991.04 L1173.0,991.05 L1176.0,991.07 L1179.0,991.08 L1182.0,991.10 L1185.0,991.11 L1188.0,991.12 L1191.0,991.14 L1194.0,991.16 L1197.0,991.17 L1200.0,991.19 L1203.0,991.21 L1206.0,991.22 L1209.0,991.24 L1212.0,991.26 L1215.0,991.28 L1218.0,991.30 L1221.0,991.32 L1224.0,991.34 L1227.0,991.36 L1230.0,991.38 L1233.0,991.40 L1236.0,991.42 L1239.0,991.45 L1242.0,991.47 L1245.0,991.49 L1248.0,991.52 L1251.0,991.54 L1254.0,991.57 L1257.0,991.60 L1260.0,991.62 L1263.0,991.65 L1266.0,991.68 L1269.0,991.71 L1272.0,991.74 L1275.0,991.77 L1278.0,991.80 L1281.0,991.83 L1284.0,991.86 L1287.0,991.89 L1290.0,991.93 L1293.0,991.96 L1296.0,991.99 L1299.0,992.03 L1302.0,992.07 L1305.0,992.10 L1308.0,992.14 L1311.0,992.18 L1314.0,992.22 L1317.0,992.26 L1320.0,992.30 L1323.0,992.34 L1326.0,992.38 L1329.0,992.42 L1332.0,992.47 L1335.0,992.51 L1338.0,992.56 L1341.0,992.60" fill="none" stroke="#f00000" stroke-width="7.8" stroke-linejoin="round"/>
<path d="M108.0,854.19 L111.0,854.50 L114.0,854.81 L117.0,855.12 L120.0,855.43 L123.0,855.73 L126.0,856.02 L129.0,856.32 L132.0,856.61 L135.0,856.89 L138.0,857.17 L141.0,857.45 L144.0,857.73 L147.0,858.00 L150.0,858.27 L153.0,858.54 L156.0,858.80 L159.0,859.06 L162.0,859.31 L165.0,859.56 L168.0,859.81 L171.0,860.06 L174.0,860.30 L177.0,860.54 L180.0,860.78 L183.0,861.01 L186.0,861.24 L189.0,861.47 L192.0,861.69 L195.0,861.91 L198.0,862.13 L201.0,862.34 L204.0,862.56 L207.0,862.76 L210.0,862.97 L213.0,863.17 L216.0,863.37 L219.0,863.57 L222.0,863.77 L225.0,863.96 L228.0,864.15 L231.0,864.33 L234.0,864.52 L237.0,864.70 L240.0,864.88 L243.0,865.05 L246.0,865.23 L249.0,865.40 L252.0,865.57 L255.0,865.73 L258.0,865.89 L261.0,866.05 L264.0,866.21 L267.0,866.37 L270.0,866.52 L273.0,866.67 L276.0,866.82 L279.0,866.97 L282.0,867.11 L285.0,867.25 L288.0,867.39 L291.0,867.53 L294.0,867.66 L297.0,867.80 L300.0,867.93 L303.0,868.06 L306.0,868.18 L309.0,868.31 L312.0,868.43 L315.0,868.55 L318.0,868.67 L321.0,868.78 L324.0,868.90 L327.0,869.01 L330.0,869.12 L333.0,869.23 L336.0,869.34 L339.0,869.44 L342.0,869.55 L345.0,869.65 L348.0,869.75 L351.0,869.84 L354.0,869.94 L357.0,870.04 L360.0,870.13 L363.0,870.22 L366.0,870.31 L369.0,870.40 L372.0,870.48 L375.0,870.57 L378.0,870.65 L381.0,870.73 L384.0,870.82 L387.0,870.89 L390.0,870.97 L393.0,871.05 L396.0,871.12 L399.0,871.20 L402.0,871.27 L405.0,871.34 L408.0,871.41 L411.0,871.48 L414.0,871.55 L417.0,871.61 L420.0,871.68 L423.0,871.74 L426.0,871.81 L429.0,871.87 L432.0,871.93 L435.0,871.99 L438.0,872.05 L441.0,872.11 L444.0,872.16 L447.0,872.22 L450.0,872.27 L453.0,872.33 L456.0,872.38 L459.0,872.43 L462.0,872.48 L465.0,872.54 L468.0,872.59 L471.0,872.63 L474.0,872.68 L477.0,872.73 L480.0,872.78 L483.0,872.82 L486.0,872.87 L489.0,872.92 L492.0,872.96 L495.0,873.00 L498.0,873.05 L501.0,873.09 L504.0,873.13 L507.0,873.17 L510.0,873.21 L513.0,873.25 L516.0,873.29 L519.0,873.32 L522.0,873.36 L525.0,873.40 L528.0,873.43 L531.0,873.47 L534.0,873.50 L537.0,873.54 L540.0,873.57 L543.0,873.60 L546.0,873.63 L549.0,873.66 L552.0,873.69 L555.0,873.72 L558.0,873.75 L561.0,873.78 L564.0,873.81 L567.0,873.84 L570.0,873.86 L573.0,873.89 L576.0,873.92 L579.0,873.94 L582.0,873.96 L585.0,873.99 L588.0,874.01 L591.0,874.03 L594.0,874.06 L597.0,874.08 L600.0,874.10 L603.0,874.12 L606.0,874.14 L609.0,874.16 L612.0,874.18 L615.0,874.20 L618.0,874.22 L621.0,874.23 L624.0,874.25 L627.0,874.27 L630.0,874.28 L633.0,874.30 L636.0,874.31 L639.0,874.33 L642.0,874.34 L645.0,874.36 L648.0,874.37 L651.0,874.38 L654.0,874.39 L657.0,874.41 L660.0,874.42 L663.0,874.43 L666.0,874.44 L669.0,874.45 L672.0,874.46 L675.0,874.47 L678.0,874.48 L681.0,874.49 L684.0,874.49 L687.0,874.50 L690.0,874.51 L693.0,874.52 L696.0,874.52 L699.0,874.53 L702.0,874.53 L705.0,874.54 L708.0,874.55 L711.0,874.55 L714.0,874.55 L717.0,874.56 L720.0,874.56 L723.0,874.57 L726.0,874.57 L729.0,874.57 L732.0,874.58 L735.0,874.58 L738.0,874.58 L741.0,874.58 L744.0,874.58 L747.0,874.58 L750.0,874.59 L753.0,874.59 L756.0,874.59 L759.0,874.59 L762.0,874.59 L765.0,874.59 L768.0,874.59 L771.0,874.59 L774.0,874.59 L777.0,874.58 L780.0,874.58 L783.0,874.58 L786.0,874.58 L789.0,874.58 L792.0,874.57 L795.0,874.57 L798.0,874.57 L801.0,874.57 L804.0,874.56 L807.0,874.56 L810.0,874.56 L813.0,874.55 L816.0,874.55 L819.0,874.55 L822.0,874.54 L825.0,874.54 L828.0,874.54 L831.0,874.53 L834.0,874.53 L837.0,874.52 L840.0,874.52 L843.0,874.51 L846.0,874.51 L849.0,874.50 L852.0,874.50 L855.0,874.49 L858.0,874.49 L861.0,874.48 L864.0,874.48 L867.0,874.47 L870.0,874.47 L873.0,874.46 L876.0,874.46 L879.0,874.45 L882.0,874.45 L885.0,874.44 L888.0,874.44 L891.0,874.43 L894.0,874.43 L897.0,874.42 L900.0,874.41 L903.0,874.41 L906.0,874.40 L909.0,874.40 L912.0,874.39 L915.0,874.39 L918.0,874.38 L921.0,874.38 L924.0,874.37 L927.0,874.37 L930.0,874.36 L933.0,874.36 L936.0,874.35 L939.0,874.35 L942.0,874.34 L945.0,874.34 L948.0,874.33 L951.0,874.33 L954.0,874.32 L957.0,874.32 L960.0,874.32 L963.0,874.31 L966.0,874.31 L969.0,874.30 L972.0,874.30 L975.0,874.30 L978.0,874.29 L981.0,874.29 L984.0,874.29 L987.0,874.28 L990.0,874.28 L993.0,874.28 L996.0,874.28 L999.0,874.27 L1002.0,874.27 L1005.0,874.27 L1008.0,874.27 L1011.0,874.27 L1014.0,874.27 L1017.0,874.26 L1020.0,874.26 L1023.0,874.26 L1026.0,874.26 L1029.0,874.26 L1032.0,874.26 L1035.0,874.26 L1038.0,874.26 L1041.0,874.27 L1044.0,874.27 L1047.0,874.27 L1050.0,874.27 L1053.0,874.27 L1056.0,874.27 L1059.0,874.28 L1062.0,874.28 L1065.0,874.28 L1068.0,874.29 L1071.0,874.29 L1074.0,874.29 L1077.0,874.30 L1080.0,874.30 L1083.0,874.31 L1086.0,874.31 L1089.0,874.32 L1092.0,874.33 L1095.0,874.33 L1098.0,874.34 L1101.0,874.35 L1104.0,874.36 L1107.0,874.36 L1110.0,874.37 L1113.0,874.38 L1116.0,874.39 L1119.0,874.40 L1122.0,874.41 L1125.0,874.42 L1128.0,874.43 L1131.0,874.44 L1134.0,874.45 L1137.0,874.47 L1140.0,874.48 L1143.0,874.49 L1146.0,874.51 L1149.0,874.52 L1152.0,874.53 L1155.0,874.55 L1158.0,874.56 L1161.0,874.58 L1164.0,874.60 L1167.0,874.61 L1170.0,874.63 L1173.0,874.65 L1176.0,874.67 L1179.0,874.69 L1182.0,874.71 L1185.0,874.73 L1188.0,874.75 L1191.0,874.77 L1194.0,874.79 L1197.0,874.81 L1200.0,874.83 L1203.0,874.86 L1206.0,874.88 L1209.0,874.90 L1212.0,874.93 L1215.0,874.95 L1218.0,874.98 L1221.0,875.01 L1224.0,875.03 L1227.0,875.06 L1230.0,875.09 L1233.0,875.12 L1236.0,875.15 L1239.0,875.18 L1242.0,875.21 L1245.0,875.24 L1248.0,875.27 L1251.0,875.31 L1254.0,875.34 L1257.0,875.38 L1260.0,875.41 L1263.0,875.45 L1266.0,875.48 L1269.0,875.52 L1272.0,875.56 L1275.0,875.59 L1278.0,875.63 L1281.0,875.67 L1284.0,875.71 L1287.0,875.75 L1290.0,875.80 L1293.0,875.84 L1296.0,875.88 L1299.0,875.93 L1302.0,875.97 L1305.0,876.02 L1308.0,876.06 L1311.0,876.11 L1314.0,876.16 L1317.0,876.20 L1320.0,876.25 L1323.0,876.30 L1326.0,876.35 L1329.0,876.41 L1332.0,876.46 L1335.0,876.51 L1338.0,876.57 L1341.0,876.62" fill="none" stroke="#0000ee" stroke-width="7.8" stroke-linejoin="round"/>
</g>
<rect x="154.8" y="982.7" width="44.1" height="57.5" fill="#ffffff" stroke="#000000" stroke-width="6.0"/>
<text transform="translate(176.60,1026.60) scale(0.97,1.04)" font-size="38.0" text-anchor="middle" font-weight="bold" fill="#000000" stroke="#000000" stroke-width="0.0">B</text>
<rect x="1128.6" y="1030.0" width="170.8" height="135.6" fill="#ffffff" stroke="#262626" stroke-width="6"/>
<path d="M1133.2,1054.0H1178.6" stroke="#000000" stroke-width="7.8" fill="none"/>
<path d="M1133.2,1097.8H1178.6" stroke="#f00000" stroke-width="7.8" fill="none"/>
<path d="M1133.2,1142.4H1178.6" stroke="#0000ee" stroke-width="7.8" fill="none"/>
<text transform="translate(1183.10,1068.20) scale(1.0,1.04)" font-size="34.2" text-anchor="start" fill="#000000">0</text>
<text transform="translate(1250.30,1068.20) scale(1.0,1.04)" font-size="34.2" text-anchor="start" fill="#000000">Gy</text>
<text transform="translate(1183.10,1111.20) scale(1.0,1.04)" font-size="34.2" text-anchor="start" fill="#000000">100 Gy</text>
<text transform="translate(1183.10,1155.80) scale(1.0,1.04)" font-size="34.2" text-anchor="start" fill="#000000">200 Gy</text>
</g>
<g id="axes-C">
<rect x="117.5" y="1646.6" width="1219.3" height="584.6" fill="none" stroke="#262626" stroke-width="6.0"/>
<path d="M361.4,2231.2v-14.6 M361.4,1646.6v14.6 M605.2,2231.2v-14.6 M605.2,1646.6v14.6 M849.1,2231.2v-14.6 M849.1,1646.6v14.6 M1092.9,2231.2v-14.6 M1092.9,1646.6v14.6 M117.5,2133.8h14.6 M1336.8,2133.8h-14.6 M117.5,2036.3h14.6 M1336.8,2036.3h-14.6 M117.5,1938.9h14.6 M1336.8,1938.9h-14.6 M117.5,1841.5h14.6 M1336.8,1841.5h-14.6 M117.5,1744.0h14.6 M1336.8,1744.0h-14.6" stroke="#262626" stroke-width="5.8" fill="none"/>
<text transform="translate(116.80,2281.30) scale(1.0,1.04)" font-size="38.0" text-anchor="middle">300</text>
<text transform="translate(360.80,2281.30) scale(1.0,1.04)" font-size="38.0" text-anchor="middle">400</text>
<text transform="translate(604.80,2281.30) scale(1.0,1.04)" font-size="38.0" text-anchor="middle">500</text>
<text transform="translate(848.80,2281.30) scale(1.0,1.04)" font-size="38.0" text-anchor="middle">600</text>
<text transform="translate(1092.80,2281.30) scale(1.0,1.04)" font-size="38.0" text-anchor="middle">700</text>
<text transform="translate(1336.80,2281.30) scale(1.0,1.04)" font-size="38.0" text-anchor="middle">800</text>
<text transform="translate(105.10,2247.61) scale(1.0,1.04)" font-size="38.0" text-anchor="end">3.5</text>
<text transform="translate(105.10,2149.76) scale(1.0,1.04)" font-size="38.0" text-anchor="end">3.6</text>
<text transform="translate(105.10,2051.91) scale(1.0,1.04)" font-size="38.0" text-anchor="end">3.7</text>
<text transform="translate(105.10,1954.06) scale(1.0,1.04)" font-size="38.0" text-anchor="end">3.8</text>
<text transform="translate(105.10,1856.20) scale(1.0,1.04)" font-size="38.0" text-anchor="end">3.9</text>
<text transform="translate(105.10,1758.35) scale(1.0,1.04)" font-size="38.0" text-anchor="end">4</text>
<text transform="translate(105.10,1660.50) scale(1.0,1.04)" font-size="38.0" text-anchor="end">4.1</text>
<text transform="translate(727.15,2330.00)" font-size="38.55" text-anchor="middle">Wavelength (nm)</text>
<text transform="translate(39.10,1939.40) rotate(-90)" font-size="38.2" text-anchor="middle">Refractive index</text>
<clipPath id="clip-C"><rect x="115.5" y="1646.6" width="1223.6" height="584.6"/></clipPath>
<g clip-path="url(#clip-C)">
<path d="M108.0,1776.42 L111.0,1778.83 L114.0,1781.26 L117.0,1783.68 L120.0,1786.12 L123.0,1788.55 L126.0,1791.00 L129.0,1793.45 L132.0,1795.90 L135.0,1798.37 L138.0,1800.83 L141.0,1803.30 L144.0,1805.77 L147.0,1808.25 L150.0,1810.73 L153.0,1813.21 L156.0,1815.70 L159.0,1818.19 L162.0,1820.69 L165.0,1823.18 L168.0,1825.68 L171.0,1828.18 L174.0,1830.68 L177.0,1833.18 L180.0,1835.69 L183.0,1838.19 L186.0,1840.70 L189.0,1843.20 L192.0,1845.71 L195.0,1848.22 L198.0,1850.72 L201.0,1853.23 L204.0,1855.73 L207.0,1858.24 L210.0,1860.74 L213.0,1863.24 L216.0,1865.74 L219.0,1868.24 L222.0,1870.73 L225.0,1873.23 L228.0,1875.72 L231.0,1878.20 L234.0,1880.69 L237.0,1883.17 L240.0,1885.64 L243.0,1888.12 L246.0,1890.59 L249.0,1893.05 L252.0,1895.51 L255.0,1897.96 L258.0,1900.41 L261.0,1902.86 L264.0,1905.30 L267.0,1907.73 L270.0,1910.16 L273.0,1912.58 L276.0,1914.99 L279.0,1917.40 L282.0,1919.80 L285.0,1922.19 L288.0,1924.57 L291.0,1926.95 L294.0,1929.32 L297.0,1931.68 L300.0,1934.03 L303.0,1936.38 L306.0,1938.71 L309.0,1941.04 L312.0,1943.36 L315.0,1945.67 L318.0,1947.97 L321.0,1950.26 L324.0,1952.54 L327.0,1954.82 L330.0,1957.08 L333.0,1959.34 L336.0,1961.58 L339.0,1963.82 L342.0,1966.04 L345.0,1968.26 L348.0,1970.47 L351.0,1972.66 L354.0,1974.85 L357.0,1977.02 L360.0,1979.19 L363.0,1981.35 L366.0,1983.49 L369.0,1985.62 L372.0,1987.75 L375.0,1989.86 L378.0,1991.96 L381.0,1994.05 L384.0,1996.13 L387.0,1998.20 L390.0,2000.26 L393.0,2002.30 L396.0,2004.34 L399.0,2006.36 L402.0,2008.37 L405.0,2010.37 L408.0,2012.36 L411.0,2014.33 L414.0,2016.29 L417.0,2018.25 L420.0,2020.18 L423.0,2022.11 L426.0,2024.02 L429.0,2025.92 L432.0,2027.81 L435.0,2029.68 L438.0,2031.55 L441.0,2033.39 L444.0,2035.23 L447.0,2037.05 L450.0,2038.86 L453.0,2040.65 L456.0,2042.44 L459.0,2044.20 L462.0,2045.96 L465.0,2047.70 L468.0,2049.42 L471.0,2051.13 L474.0,2052.83 L477.0,2054.52 L480.0,2056.19 L483.0,2057.84 L486.0,2059.48 L489.0,2061.11 L492.0,2062.72 L495.0,2064.32 L498.0,2065.91 L501.0,2067.48 L504.0,2069.04 L507.0,2070.58 L510.0,2072.11 L513.0,2073.63 L516.0,2075.14 L519.0,2076.63 L522.0,2078.10 L525.0,2079.57 L528.0,2081.02 L531.0,2082.46 L534.0,2083.88 L537.0,2085.29 L540.0,2086.69 L543.0,2088.07 L546.0,2089.44 L549.0,2090.80 L552.0,2092.15 L555.0,2093.48 L558.0,2094.80 L561.0,2096.11 L564.0,2097.40 L567.0,2098.68 L570.0,2099.95 L573.0,2101.21 L576.0,2102.45 L579.0,2103.69 L582.0,2104.90 L585.0,2106.11 L588.0,2107.31 L591.0,2108.49 L594.0,2109.66 L597.0,2110.81 L600.0,2111.96 L603.0,2113.09 L606.0,2114.21 L609.0,2115.32 L612.0,2116.42 L615.0,2117.50 L618.0,2118.58 L621.0,2119.64 L624.0,2120.69 L627.0,2121.73 L630.0,2122.75 L633.0,2123.77 L636.0,2124.77 L639.0,2125.76 L642.0,2126.74 L645.0,2127.71 L648.0,2128.67 L651.0,2129.61 L654.0,2130.55 L657.0,2131.47 L660.0,2132.38 L663.0,2133.28 L666.0,2134.17 L669.0,2135.05 L672.0,2135.92 L675.0,2136.78 L678.0,2137.62 L681.0,2138.46 L684.0,2139.28 L687.0,2140.09 L690.0,2140.90 L693.0,2141.69 L696.0,2142.47 L699.0,2143.24 L702.0,2144.00 L705.0,2144.75 L708.0,2145.49 L711.0,2146.22 L714.0,2146.94 L717.0,2147.64 L720.0,2148.34 L723.0,2149.03 L726.0,2149.71 L729.0,2150.37 L732.0,2151.03 L735.0,2151.68 L738.0,2152.32 L741.0,2152.94 L744.0,2153.56 L747.0,2154.17 L750.0,2154.77 L753.0,2155.36 L756.0,2155.94 L759.0,2156.51 L762.0,2157.07 L765.0,2157.62 L768.0,2158.16 L771.0,2158.70 L774.0,2159.22 L777.0,2159.74 L780.0,2160.24 L783.0,2160.74 L786.0,2161.23 L789.0,2161.71 L792.0,2162.18 L795.0,2162.65 L798.0,2163.10 L801.0,2163.55 L804.0,2163.99 L807.0,2164.42 L810.0,2164.84 L813.0,2165.25 L816.0,2165.66 L819.0,2166.06 L822.0,2166.45 L825.0,2166.83 L828.0,2167.20 L831.0,2167.57 L834.0,2167.93 L837.0,2168.28 L840.0,2168.63 L843.0,2168.96 L846.0,2169.29 L849.0,2169.62 L852.0,2169.93 L855.0,2170.24 L858.0,2170.54 L861.0,2170.84 L864.0,2171.12 L867.0,2171.40 L870.0,2171.68 L873.0,2171.95 L876.0,2172.21 L879.0,2172.46 L882.0,2172.71 L885.0,2172.95 L888.0,2173.19 L891.0,2173.41 L894.0,2173.64 L897.0,2173.85 L900.0,2174.06 L903.0,2174.27 L906.0,2174.47 L909.0,2174.66 L912.0,2174.85 L915.0,2175.03 L918.0,2175.21 L921.0,2175.38 L924.0,2175.54 L927.0,2175.70 L930.0,2175.86 L933.0,2176.01 L936.0,2176.15 L939.0,2176.29 L942.0,2176.43 L945.0,2176.56 L948.0,2176.68 L951.0,2176.80 L954.0,2176.92 L957.0,2177.03 L960.0,2177.13 L963.0,2177.24 L966.0,2177.33 L969.0,2177.43 L972.0,2177.51 L975.0,2177.60 L978.0,2177.68 L981.0,2177.75 L984.0,2177.83 L987.0,2177.90 L990.0,2177.96 L993.0,2178.02 L996.0,2178.08 L999.0,2178.13 L1002.0,2178.18 L1005.0,2178.23 L1008.0,2178.27 L1011.0,2178.31 L1014.0,2178.35 L1017.0,2178.38 L1020.0,2178.41 L1023.0,2178.44 L1026.0,2178.46 L1029.0,2178.48 L1032.0,2178.50 L1035.0,2178.52 L1038.0,2178.53 L1041.0,2178.54 L1044.0,2178.55 L1047.0,2178.55 L1050.0,2178.55 L1053.0,2178.56 L1056.0,2178.55 L1059.0,2178.55 L1062.0,2178.54 L1065.0,2178.54 L1068.0,2178.53 L1071.0,2178.51 L1074.0,2178.50 L1077.0,2178.48 L1080.0,2178.47 L1083.0,2178.45 L1086.0,2178.43 L1089.0,2178.41 L1092.0,2178.38 L1095.0,2178.36 L1098.0,2178.33 L1101.0,2178.31 L1104.0,2178.28 L1107.0,2178.25 L1110.0,2178.22 L1113.0,2178.19 L1116.0,2178.16 L1119.0,2178.13 L1122.0,2178.09 L1125.0,2178.06 L1128.0,2178.02 L1131.0,2177.99 L1134.0,2177.96 L1137.0,2177.92 L1140.0,2177.88 L1143.0,2177.85 L1146.0,2177.81 L1149.0,2177.78 L1152.0,2177.74 L1155.0,2177.71 L1158.0,2177.67 L1161.0,2177.64 L1164.0,2177.60 L1167.0,2177.57 L1170.0,2177.53 L1173.0,2177.50 L1176.0,2177.47 L1179.0,2177.43 L1182.0,2177.40 L1185.0,2177.37 L1188.0,2177.34 L1191.0,2177.31 L1194.0,2177.29 L1197.0,2177.26 L1200.0,2177.24 L1203.0,2177.21 L1206.0,2177.19 L1209.0,2177.17 L1212.0,2177.15 L1215.0,2177.13 L1218.0,2177.11 L1221.0,2177.10 L1224.0,2177.09 L1227.0,2177.07 L1230.0,2177.07 L1233.0,2177.06 L1236.0,2177.05 L1239.0,2177.05 L1242.0,2177.05 L1245.0,2177.05 L1248.0,2177.06 L1251.0,2177.06 L1254.0,2177.07 L1257.0,2177.08 L1260.0,2177.10 L1263.0,2177.11 L1266.0,2177.13 L1269.0,2177.15 L1272.0,2177.18 L1275.0,2177.21 L1278.0,2177.24 L1281.0,2177.27 L1284.0,2177.31 L1287.0,2177.35 L1290.0,2177.40 L1293.0,2177.45 L1296.0,2177.50 L1299.0,2177.55 L1302.0,2177.61 L1305.0,2177.67 L1308.0,2177.74 L1311.0,2177.81 L1314.0,2177.88 L1317.0,2177.96 L1320.0,2178.04 L1323.0,2178.13 L1326.0,2178.22 L1329.0,2178.31 L1332.0,2178.41 L1335.0,2178.52 L1338.0,2178.62 L1341.0,2178.74" fill="none" stroke="#000000" stroke-width="7.8" stroke-linejoin="round"/>
<path d="M108.0,1680.46 L111.0,1682.16 L114.0,1683.84 L117.0,1685.51 L120.0,1687.16 L123.0,1688.78 L126.0,1690.39 L129.0,1691.98 L132.0,1693.55 L135.0,1695.11 L138.0,1696.64 L141.0,1698.16 L144.0,1699.66 L147.0,1701.14 L150.0,1702.61 L153.0,1704.06 L156.0,1705.49 L159.0,1706.90 L162.0,1708.30 L165.0,1709.67 L168.0,1711.04 L171.0,1712.38 L174.0,1713.71 L177.0,1715.02 L180.0,1716.31 L183.0,1717.59 L186.0,1718.85 L189.0,1720.10 L192.0,1721.33 L195.0,1722.54 L198.0,1723.74 L201.0,1724.92 L204.0,1726.09 L207.0,1727.24 L210.0,1728.38 L213.0,1729.50 L216.0,1730.60 L219.0,1731.69 L222.0,1732.76 L225.0,1733.82 L228.0,1734.87 L231.0,1735.90 L234.0,1736.91 L237.0,1737.92 L240.0,1738.90 L243.0,1739.87 L246.0,1740.83 L249.0,1741.78 L252.0,1742.71 L255.0,1743.62 L258.0,1744.53 L261.0,1745.41 L264.0,1746.29 L267.0,1747.15 L270.0,1748.00 L273.0,1748.84 L276.0,1749.66 L279.0,1750.47 L282.0,1751.26 L285.0,1752.05 L288.0,1752.82 L291.0,1753.58 L294.0,1754.32 L297.0,1755.06 L300.0,1755.78 L303.0,1756.49 L306.0,1757.19 L309.0,1757.87 L312.0,1758.54 L315.0,1759.21 L318.0,1759.86 L321.0,1760.49 L324.0,1761.12 L327.0,1761.74 L330.0,1762.34 L333.0,1762.94 L336.0,1763.52 L339.0,1764.09 L342.0,1764.65 L345.0,1765.20 L348.0,1765.74 L351.0,1766.27 L354.0,1766.79 L357.0,1767.30 L360.0,1767.80 L363.0,1768.29 L366.0,1768.77 L369.0,1769.24 L372.0,1769.70 L375.0,1770.15 L378.0,1770.59 L381.0,1771.02 L384.0,1771.44 L387.0,1771.86 L390.0,1772.26 L393.0,1772.66 L396.0,1773.04 L399.0,1773.42 L402.0,1773.79 L405.0,1774.15 L408.0,1774.50 L411.0,1774.85 L414.0,1775.18 L417.0,1775.51 L420.0,1775.83 L423.0,1776.14 L426.0,1776.45 L429.0,1776.74 L432.0,1777.03 L435.0,1777.31 L438.0,1777.59 L441.0,1777.86 L444.0,1778.12 L447.0,1778.37 L450.0,1778.62 L453.0,1778.86 L456.0,1779.09 L459.0,1779.31 L462.0,1779.53 L465.0,1779.75 L468.0,1779.96 L471.0,1780.16 L474.0,1780.35 L477.0,1780.54 L480.0,1780.73 L483.0,1780.90 L486.0,1781.08 L489.0,1781.24 L492.0,1781.40 L495.0,1781.56 L498.0,1781.71 L501.0,1781.86 L504.0,1782.00 L507.0,1782.14 L510.0,1782.27 L513.0,1782.40 L516.0,1782.52 L519.0,1782.64 L522.0,1782.76 L525.0,1782.87 L528.0,1782.98 L531.0,1783.08 L534.0,1783.18 L537.0,1783.27 L540.0,1783.37 L543.0,1783.46 L546.0,1783.54 L549.0,1783.62 L552.0,1783.70 L555.0,1783.78 L558.0,1783.85 L561.0,1783.92 L564.0,1783.99 L567.0,1784.06 L570.0,1784.12 L573.0,1784.18 L576.0,1784.24 L579.0,1784.30 L582.0,1784.36 L585.0,1784.41 L588.0,1784.46 L591.0,1784.51 L594.0,1784.56 L597.0,1784.61 L600.0,1784.65 L603.0,1784.70 L606.0,1784.74 L609.0,1784.79 L612.0,1784.83 L615.0,1784.87 L618.0,1784.91 L621.0,1784.95 L624.0,1784.99 L627.0,1785.03 L630.0,1785.07 L633.0,1785.11 L636.0,1785.14 L639.0,1785.18 L642.0,1785.22 L645.0,1785.25 L648.0,1785.29 L651.0,1785.32 L654.0,1785.36 L657.0,1785.39 L660.0,1785.43 L663.0,1785.46 L666.0,1785.49 L669.0,1785.52 L672.0,1785.56 L675.0,1785.59 L678.0,1785.62 L681.0,1785.65 L684.0,1785.68 L687.0,1785.71 L690.0,1785.74 L693.0,1785.76 L696.0,1785.79 L699.0,1785.82 L702.0,1785.85 L705.0,1785.87 L708.0,1785.90 L711.0,1785.93 L714.0,1785.95 L717.0,1785.98 L720.0,1786.00 L723.0,1786.03 L726.0,1786.05 L729.0,1786.07 L732.0,1786.10 L735.0,1786.12 L738.0,1786.14 L741.0,1786.17 L744.0,1786.19 L747.0,1786.21 L750.0,1786.23 L753.0,1786.25 L756.0,1786.27 L759.0,1786.29 L762.0,1786.31 L765.0,1786.33 L768.0,1786.35 L771.0,1786.37 L774.0,1786.39 L777.0,1786.41 L780.0,1786.43 L783.0,1786.45 L786.0,1786.46 L789.0,1786.48 L792.0,1786.50 L795.0,1786.52 L798.0,1786.53 L801.0,1786.55 L804.0,1786.57 L807.0,1786.58 L810.0,1786.60 L813.0,1786.61 L816.0,1786.63 L819.0,1786.65 L822.0,1786.66 L825.0,1786.68 L828.0,1786.69 L831.0,1786.71 L834.0,1786.72 L837.0,1786.73 L840.0,1786.75 L843.0,1786.76 L846.0,1786.78 L849.0,1786.79 L852.0,1786.80 L855.0,1786.82 L858.0,1786.83 L861.0,1786.84 L864.0,1786.86 L867.0,1786.87 L870.0,1786.88 L873.0,1786.90 L876.0,1786.91 L879.0,1786.92 L882.0,1786.93 L885.0,1786.95 L888.0,1786.96 L891.0,1786.97 L894.0,1786.99 L897.0,1787.00 L900.0,1787.01 L903.0,1787.02 L906.0,1787.03 L909.0,1787.05 L912.0,1787.06 L915.0,1787.07 L918.0,1787.08 L921.0,1787.10 L924.0,1787.11 L927.0,1787.12 L930.0,1787.13 L933.0,1787.14 L936.0,1787.16 L939.0,1787.17 L942.0,1787.18 L945.0,1787.19 L948.0,1787.21 L951.0,1787.22 L954.0,1787.23 L957.0,1787.24 L960.0,1787.26 L963.0,1787.27 L966.0,1787.28 L969.0,1787.30 L972.0,1787.31 L975.0,1787.32 L978.0,1787.34 L981.0,1787.35 L984.0,1787.36 L987.0,1787.38 L990.0,1787.39 L993.0,1787.40 L996.0,1787.42 L999.0,1787.43 L1002.0,1787.45 L1005.0,1787.46 L1008.0,1787.48 L1011.0,1787.49 L1014.0,1787.51 L1017.0,1787.52 L1020.0,1787.54 L1023.0,1787.55 L1026.0,1787.57 L1029.0,1787.58 L1032.0,1787.60 L1035.0,1787.62 L1038.0,1787.63 L1041.0,1787.65 L1044.0,1787.66 L1047.0,1787.68 L1050.0,1787.70 L1053.0,1787.72 L1056.0,1787.73 L1059.0,1787.75 L1062.0,1787.77 L1065.0,1787.79 L1068.0,1787.80 L1071.0,1787.82 L1074.0,1787.84 L1077.0,1787.86 L1080.0,1787.88 L1083.0,1787.90 L1086.0,1787.91 L1089.0,1787.93 L1092.0,1787.95 L1095.0,1787.97 L1098.0,1787.99 L1101.0,1788.01 L1104.0,1788.03 L1107.0,1788.05 L1110.0,1788.07 L1113.0,1788.09 L1116.0,1788.11 L1119.0,1788.14 L1122.0,1788.16 L1125.0,1788.18 L1128.0,1788.20 L1131.0,1788.22 L1134.0,1788.24 L1137.0,1788.27 L1140.0,1788.29 L1143.0,1788.31 L1146.0,1788.33 L1149.0,1788.36 L1152.0,1788.38 L1155.0,1788.40 L1158.0,1788.43 L1161.0,1788.45 L1164.0,1788.47 L1167.0,1788.50 L1170.0,1788.52 L1173.0,1788.55 L1176.0,1788.57 L1179.0,1788.60 L1182.0,1788.62 L1185.0,1788.65 L1188.0,1788.67 L1191.0,1788.70 L1194.0,1788.72 L1197.0,1788.75 L1200.0,1788.78 L1203.0,1788.80 L1206.0,1788.83 L1209.0,1788.86 L1212.0,1788.88 L1215.0,1788.91 L1218.0,1788.94 L1221.0,1788.97 L1224.0,1788.99 L1227.0,1789.02 L1230.0,1789.05 L1233.0,1789.08 L1236.0,1789.11 L1239.0,1789.14 L1242.0,1789.17 L1245.0,1789.20 L1248.0,1789.23 L1251.0,1789.26 L1254.0,1789.29 L1257.0,1789.32 L1260.0,1789.35 L1263.0,1789.38 L1266.0,1789.41 L1269.0,1789.44 L1272.0,1789.47 L1275.0,1789.50 L1278.0,1789.54 L1281.0,1789.57 L1284.0,1789.60 L1287.0,1789.63 L1290.0,1789.67 L1293.0,1789.70 L1296.0,1789.73 L1299.0,1789.77 L1302.0,1789.80 L1305.0,1789.83 L1308.0,1789.87 L1311.0,1789.90 L1314.0,1789.94 L1317.0,1789.97 L1320.0,1790.01 L1323.0,1790.04 L1326.0,1790.08 L1329.0,1790.11 L1332.0,1790.15 L1335.0,1790.19 L1338.0,1790.22 L1341.0,1790.26" fill="none" stroke="#f00000" stroke-width="7.8" stroke-linejoin="round"/>
<path d="M108.0,1650.31 L111.0,1650.80 L114.0,1651.27 L117.0,1651.75 L120.0,1652.21 L123.0,1652.66 L126.0,1653.11 L129.0,1653.55 L132.0,1653.99 L135.0,1654.41 L138.0,1654.83 L141.0,1655.24 L144.0,1655.65 L147.0,1656.05 L150.0,1656.44 L153.0,1656.82 L156.0,1657.20 L159.0,1657.57 L162.0,1657.93 L165.0,1658.29 L168.0,1658.64 L171.0,1658.98 L174.0,1659.32 L177.0,1659.65 L180.0,1659.98 L183.0,1660.30 L186.0,1660.61 L189.0,1660.92 L192.0,1661.22 L195.0,1661.51 L198.0,1661.80 L201.0,1662.08 L204.0,1662.36 L207.0,1662.63 L210.0,1662.90 L213.0,1663.16 L216.0,1663.41 L219.0,1663.66 L222.0,1663.90 L225.0,1664.14 L228.0,1664.37 L231.0,1664.60 L234.0,1664.82 L237.0,1665.04 L240.0,1665.25 L243.0,1665.46 L246.0,1665.66 L249.0,1665.86 L252.0,1666.06 L255.0,1666.24 L258.0,1666.43 L261.0,1666.61 L264.0,1666.78 L267.0,1666.95 L270.0,1667.12 L273.0,1667.28 L276.0,1667.44 L279.0,1667.59 L282.0,1667.74 L285.0,1667.89 L288.0,1668.03 L291.0,1668.16 L294.0,1668.30 L297.0,1668.43 L300.0,1668.55 L303.0,1668.68 L306.0,1668.79 L309.0,1668.91 L312.0,1669.02 L315.0,1669.13 L318.0,1669.24 L321.0,1669.34 L324.0,1669.44 L327.0,1669.53 L330.0,1669.62 L333.0,1669.71 L336.0,1669.80 L339.0,1669.88 L342.0,1669.96 L345.0,1670.04 L348.0,1670.12 L351.0,1670.19 L354.0,1670.26 L357.0,1670.33 L360.0,1670.39 L363.0,1670.46 L366.0,1670.52 L369.0,1670.58 L372.0,1670.63 L375.0,1670.69 L378.0,1670.74 L381.0,1670.79 L384.0,1670.84 L387.0,1670.88 L390.0,1670.93 L393.0,1670.97 L396.0,1671.01 L399.0,1671.05 L402.0,1671.09 L405.0,1671.13 L408.0,1671.16 L411.0,1671.20 L414.0,1671.23 L417.0,1671.26 L420.0,1671.29 L423.0,1671.32 L426.0,1671.35 L429.0,1671.38 L432.0,1671.40 L435.0,1671.43 L438.0,1671.45 L441.0,1671.48 L444.0,1671.50 L447.0,1671.53 L450.0,1671.55 L453.0,1671.57 L456.0,1671.59 L459.0,1671.61 L462.0,1671.64 L465.0,1671.66 L468.0,1671.68 L471.0,1671.70 L474.0,1671.72 L477.0,1671.74 L480.0,1671.76 L483.0,1671.78 L486.0,1671.80 L489.0,1671.82 L492.0,1671.84 L495.0,1671.86 L498.0,1671.88 L501.0,1671.90 L504.0,1671.92 L507.0,1671.94 L510.0,1671.95 L513.0,1671.97 L516.0,1671.99 L519.0,1672.01 L522.0,1672.03 L525.0,1672.04 L528.0,1672.06 L531.0,1672.08 L534.0,1672.09 L537.0,1672.11 L540.0,1672.13 L543.0,1672.14 L546.0,1672.16 L549.0,1672.18 L552.0,1672.19 L555.0,1672.21 L558.0,1672.22 L561.0,1672.24 L564.0,1672.26 L567.0,1672.27 L570.0,1672.29 L573.0,1672.30 L576.0,1672.32 L579.0,1672.33 L582.0,1672.34 L585.0,1672.36 L588.0,1672.37 L591.0,1672.39 L594.0,1672.40 L597.0,1672.41 L600.0,1672.43 L603.0,1672.44 L606.0,1672.45 L609.0,1672.47 L612.0,1672.48 L615.0,1672.49 L618.0,1672.51 L621.0,1672.52 L624.0,1672.53 L627.0,1672.54 L630.0,1672.56 L633.0,1672.57 L636.0,1672.58 L639.0,1672.59 L642.0,1672.60 L645.0,1672.61 L648.0,1672.63 L651.0,1672.64 L654.0,1672.65 L657.0,1672.66 L660.0,1672.67 L663.0,1672.68 L666.0,1672.69 L669.0,1672.70 L672.0,1672.71 L675.0,1672.72 L678.0,1672.73 L681.0,1672.74 L684.0,1672.75 L687.0,1672.76 L690.0,1672.77 L693.0,1672.78 L696.0,1672.79 L699.0,1672.80 L702.0,1672.81 L705.0,1672.82 L708.0,1672.83 L711.0,1672.84 L714.0,1672.85 L717.0,1672.85 L720.0,1672.86 L723.0,1672.87 L726.0,1672.88 L729.0,1672.89 L732.0,1672.90 L735.0,1672.90 L738.0,1672.91 L741.0,1672.92 L744.0,1672.93 L747.0,1672.94 L750.0,1672.94 L753.0,1672.95 L756.0,1672.96 L759.0,1672.97 L762.0,1672.97 L765.0,1672.98 L768.0,1672.99 L771.0,1673.00 L774.0,1673.00 L777.0,1673.01 L780.0,1673.02 L783.0,1673.02 L786.0,1673.03 L789.0,1673.04 L792.0,1673.04 L795.0,1673.05 L798.0,1673.06 L801.0,1673.06 L804.0,1673.07 L807.0,1673.08 L810.0,1673.08 L813.0,1673.09 L816.0,1673.10 L819.0,1673.10 L822.0,1673.11 L825.0,1673.11 L828.0,1673.12 L831.0,1673.13 L834.0,1673.13 L837.0,1673.14 L840.0,1673.14 L843.0,1673.15 L846.0,1673.15 L849.0,1673.16 L852.0,1673.17 L855.0,1673.17 L858.0,1673.18 L861.0,1673.18 L864.0,1673.19 L867.0,1673.19 L870.0,1673.20 L873.0,1673.20 L876.0,1673.21 L879.0,1673.21 L882.0,1673.22 L885.0,1673.22 L888.0,1673.23 L891.0,1673.23 L894.0,1673.24 L897.0,1673.24 L900.0,1673.25 L903.0,1673.25 L906.0,1673.26 L909.0,1673.26 L912.0,1673.27 L915.0,1673.27 L918.0,1673.28 L921.0,1673.28 L924.0,1673.29 L927.0,1673.29 L930.0,1673.30 L933.0,1673.30 L936.0,1673.31 L939.0,1673.31 L942.0,1673.32 L945.0,1673.32 L948.0,1673.33 L951.0,1673.33 L954.0,1673.34 L957.0,1673.34 L960.0,1673.34 L963.0,1673.35 L966.0,1673.35 L969.0,1673.36 L972.0,1673.36 L975.0,1673.37 L978.0,1673.37 L981.0,1673.38 L984.0,1673.38 L987.0,1673.39 L990.0,1673.39 L993.0,1673.40 L996.0,1673.40 L999.0,1673.41 L1002.0,1673.41 L1005.0,1673.42 L1008.0,1673.42 L1011.0,1673.43 L1014.0,1673.43 L1017.0,1673.44 L1020.0,1673.44 L1023.0,1673.45 L1026.0,1673.45 L1029.0,1673.46 L1032.0,1673.46 L1035.0,1673.47 L1038.0,1673.47 L1041.0,1673.48 L1044.0,1673.48 L1047.0,1673.49 L1050.0,1673.49 L1053.0,1673.50 L1056.0,1673.50 L1059.0,1673.51 L1062.0,1673.51 L1065.0,1673.52 L1068.0,1673.52 L1071.0,1673.53 L1074.0,1673.53 L1077.0,1673.54 L1080.0,1673.55 L1083.0,1673.55 L1086.0,1673.56 L1089.0,1673.56 L1092.0,1673.57 L1095.0,1673.57 L1098.0,1673.58 L1101.0,1673.59 L1104.0,1673.59 L1107.0,1673.60 L1110.0,1673.60 L1113.0,1673.61 L1116.0,1673.62 L1119.0,1673.62 L1122.0,1673.63 L1125.0,1673.64 L1128.0,1673.64 L1131.0,1673.65 L1134.0,1673.66 L1137.0,1673.66 L1140.0,1673.67 L1143.0,1673.68 L1146.0,1673.68 L1149.0,1673.69 L1152.0,1673.70 L1155.0,1673.70 L1158.0,1673.71 L1161.0,1673.72 L1164.0,1673.73 L1167.0,1673.73 L1170.0,1673.74 L1173.0,1673.75 L1176.0,1673.76 L1179.0,1673.76 L1182.0,1673.77 L1185.0,1673.78 L1188.0,1673.79 L1191.0,1673.80 L1194.0,1673.81 L1197.0,1673.81 L1200.0,1673.82 L1203.0,1673.83 L1206.0,1673.84 L1209.0,1673.85 L1212.0,1673.86 L1215.0,1673.87 L1218.0,1673.87 L1221.0,1673.88 L1224.0,1673.89 L1227.0,1673.90 L1230.0,1673.91 L1233.0,1673.92 L1236.0,1673.93 L1239.0,1673.94 L1242.0,1673.95 L1245.0,1673.96 L1248.0,1673.97 L1251.0,1673.98 L1254.0,1673.99 L1257.0,1674.00 L1260.0,1674.01 L1263.0,1674.02 L1266.0,1674.03 L1269.0,1674.05 L1272.0,1674.06 L1275.0,1674.07 L1278.0,1674.08 L1281.0,1674.09 L1284.0,1674.10 L1287.0,1674.11 L1290.0,1674.13 L1293.0,1674.14 L1296.0,1674.15 L1299.0,1674.16 L1302.0,1674.17 L1305.0,1674.19 L1308.0,1674.20 L1311.0,1674.21 L1314.0,1674.23 L1317.0,1674.24 L1320.0,1674.25 L1323.0,1674.26 L1326.0,1674.28 L1329.0,1674.29 L1332.0,1674.31 L1335.0,1674.32 L1338.0,1674.33 L1341.0,1674.35" fill="none" stroke="#0000ee" stroke-width="7.8" stroke-linejoin="round"/>
</g>
<rect x="159.6" y="1750.1" width="43.7" height="57.9" fill="#ffffff" stroke="#000000" stroke-width="6.0"/>
<text transform="translate(180.70,1793.30) scale(0.95,1.04)" font-size="38.0" text-anchor="middle" font-weight="bold" fill="#000000" stroke="#000000" stroke-width="0.0">C</text>
<rect x="1095.4" y="1814.5" width="208.1" height="149.1" fill="#ffffff" stroke="#262626" stroke-width="6"/>
<path d="M1119.3,1840.3H1164.8" stroke="#000000" stroke-width="7.8" fill="none"/>
<path d="M1119.3,1888.4H1164.8" stroke="#f00000" stroke-width="7.8" fill="none"/>
<path d="M1119.3,1937.1H1164.8" stroke="#0000ee" stroke-width="7.8" fill="none"/>
<text transform="translate(1168.60,1854.20) scale(1.0,1.04)" font-size="34.2" text-anchor="start" fill="#000000">0</text>
<text transform="translate(1235.80,1854.20) scale(1.0,1.04)" font-size="34.2" text-anchor="start" fill="#000000">Gy</text>
<text transform="translate(1168.60,1902.50) scale(1.0,1.04)" font-size="34.2" text-anchor="start" fill="#000000">100 Gy</text>
<text transform="translate(1168.60,1950.60) scale(1.0,1.04)" font-size="34.2" text-anchor="start" fill="#000000">200 Gy</text>
</g>
</svg>
</body>
</html>
